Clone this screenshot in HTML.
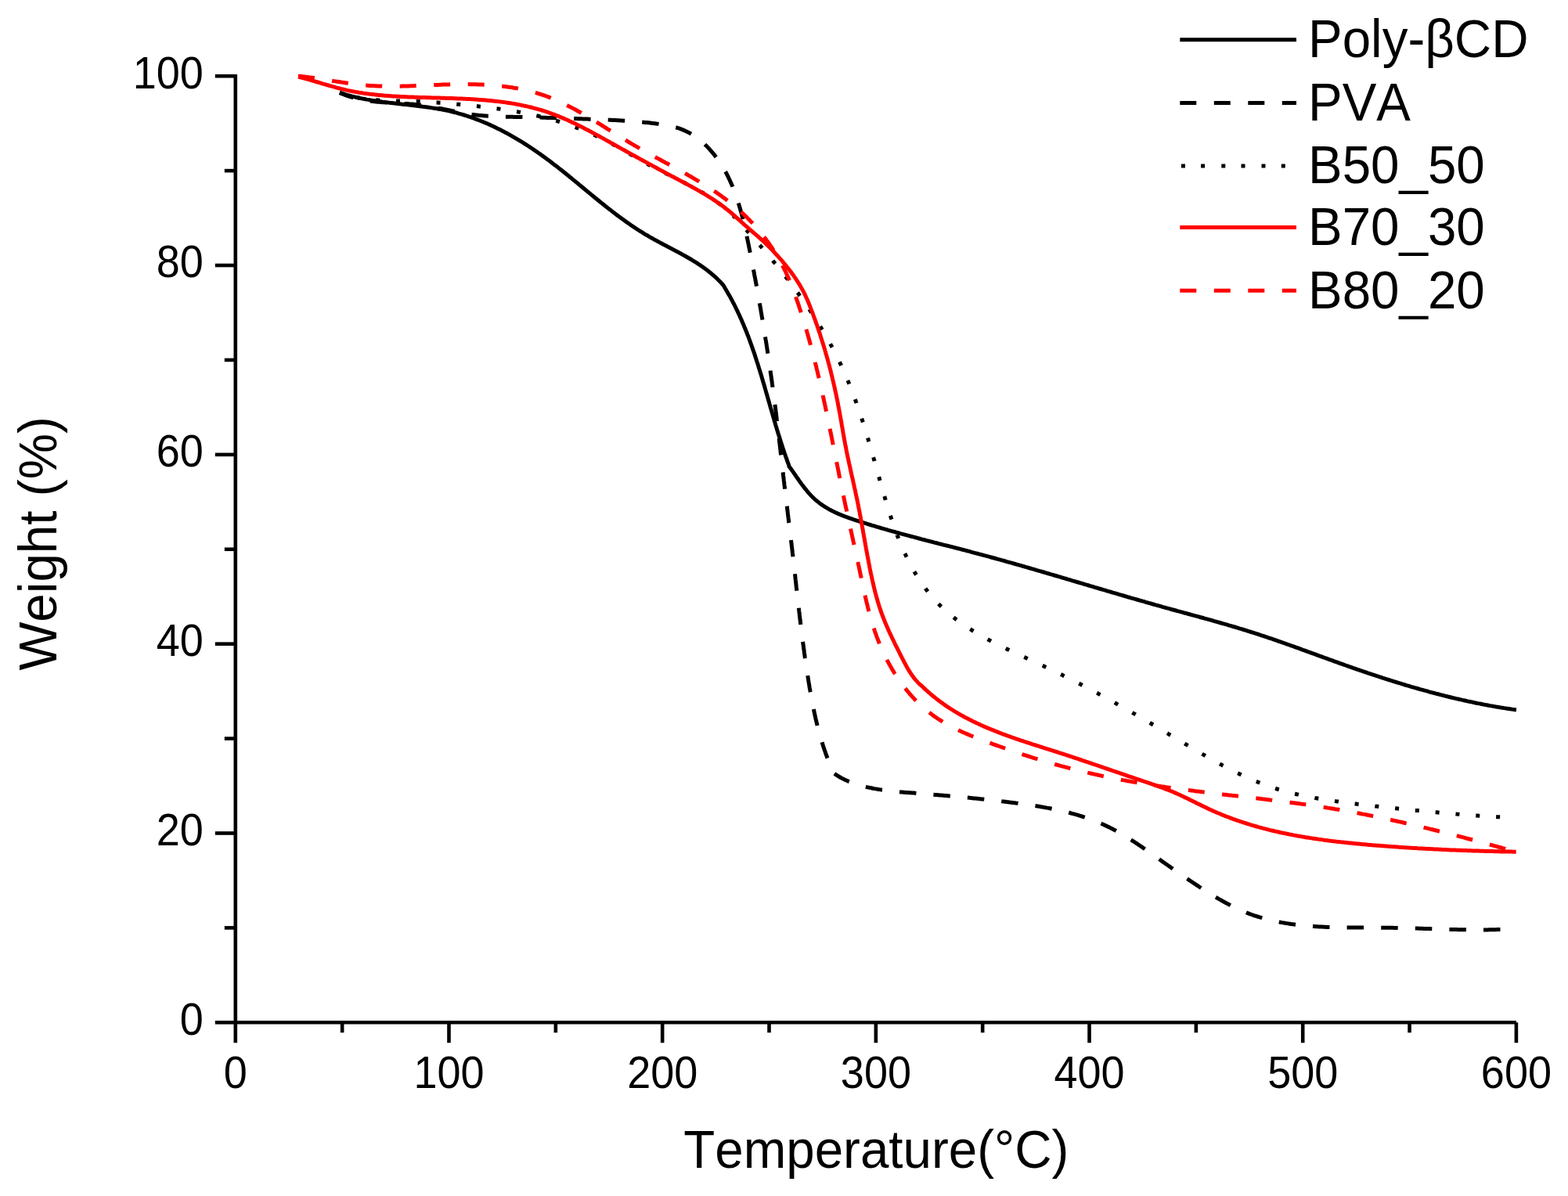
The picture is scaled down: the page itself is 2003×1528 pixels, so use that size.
<!DOCTYPE html>
<html><head><meta charset="utf-8"><title>TGA curves</title>
<style>html,body{margin:0;padding:0;background:#fff;width:2003px;height:1528px;overflow:hidden}svg{display:block}</style>
</head><body>
<svg width="2003" height="1528" viewBox="0 0 2003 1528">
<rect width="2003" height="1528" fill="#ffffff"/>
<g fill="none" stroke-linejoin="round">
<path d="M434.0 118.5 L435.9 119.3 L437.8 119.9 L439.7 120.5 L441.7 121.1 L443.6 121.7 L445.6 122.2 L447.5 122.7 L449.5 123.1 L451.4 123.6 L453.4 124.0 L455.3 124.4 L457.3 124.7 L459.2 125.1 L461.2 125.4 L463.2 125.7 L465.1 126.0 L467.1 126.3 L469.1 126.5 L471.1 126.8 L473.1 127.0 L475.0 127.2 L477.0 127.4 L479.0 127.6 L481.0 127.7 L483.0 127.9 L485.0 128.0 L487.0 128.2 L488.9 128.3 L490.9 128.4 L492.9 128.5 L494.9 128.6 L496.9 128.6 L498.9 128.7 L500.9 128.8 L502.9 128.9 L504.9 128.9 L506.9 129.0 L508.9 129.0 L510.9 129.1 L512.9 129.1 L514.9 129.2 L516.9 129.2 L518.9 129.2 L520.9 129.3 L522.9 129.3 L524.9 129.4 L526.9 129.4 L528.9 129.5 L530.9 129.6 L532.9 129.6 L534.9 129.7 L536.9 129.8 L538.8 129.9 L540.8 129.9 L542.8 130.0 L544.8 130.1 L546.8 130.3 L548.8 130.4 L550.8 130.5 L552.8 130.6 L554.7 130.7 L556.7 130.9 L558.7 131.0 L560.7 131.2 L562.7 131.3 L564.7 131.5 L566.6 131.6 L568.6 131.8 L570.6 131.9 L572.6 132.1 L574.6 132.3 L576.6 132.4 L578.6 132.6 L580.5 132.8 L582.5 133.0 L584.5 133.2 L586.5 133.3 L588.5 133.5 L590.5 133.7 L592.5 133.9 L594.5 134.1 L596.5 134.3 L598.5 134.5 L600.5 134.7 L602.4 134.9 L604.4 135.1 L606.4 135.3 L608.4 135.5 L610.4 135.7 L612.4 136.0 L614.4 136.2 L616.4 136.4 L618.4 136.6 L620.4 136.9 L622.4 137.1 L624.4 137.4 L626.4 137.6 L628.4 137.9 L630.4 138.1 L632.4 138.4 L634.4 138.7 L636.3 138.9 L638.3 139.2 L640.3 139.5 L642.3 139.8 L644.3 140.1 L646.3 140.4 L648.3 140.7 L650.3 141.0 L652.2 141.3 L654.2 141.6 L656.2 142.0 L658.2 142.3 L660.1 142.6 L662.1 143.0 L664.1 143.3 L666.1 143.7 L668.0 144.1 L670.0 144.5 L672.0 144.9 L673.9 145.2 L675.9 145.6 L677.9 146.1 L679.8 146.5 L681.8 146.9 L683.7 147.3 L685.7 147.8 L687.6 148.2 L689.6 148.7 L691.5 149.2 L693.4 149.6 L695.4 150.1 L697.3 150.6 L699.2 151.1 L701.2 151.6 L703.1 152.2 L705.0 152.7 L706.9 153.2 L708.8 153.8 L710.7 154.3 L712.6 154.9 L714.5 155.5 L716.4 156.1 L718.3 156.7 L720.2 157.3 L722.1 157.9 L724.0 158.6 L725.9 159.2 L727.8 159.9 L729.6 160.5 L731.5 161.2 L733.4 161.9 L735.2 162.6 L737.1 163.3 L739.0 164.0 L740.8 164.7 L742.7 165.5 L744.5 166.2 L746.3 167.0 L748.2 167.7 L750.0 168.5 L751.8 169.3 L753.7 170.1 L755.5 170.9 L757.3 171.7 L759.1 172.5 L760.9 173.3 L762.7 174.2 L764.5 175.0 L766.3 175.9 L768.1 176.7 L769.9 177.6 L771.7 178.5 L773.5 179.4 L775.2 180.3 L777.0 181.2 L778.8 182.1 L780.5 183.1 L782.3 184.0 L784.1 185.0 L785.8 185.9 L787.6 186.9 L789.3 187.8 L791.0 188.8 L792.8 189.8 L794.5 190.8 L796.3 191.8 L798.0 192.8 L799.7 193.8 L801.5 194.8 L803.2 195.8 L804.9 196.8 L806.6 197.8 L808.4 198.8 L810.1 199.8 L811.8 200.8 L813.6 201.8 L815.3 202.8 L817.0 203.8 L818.8 204.8 L820.5 205.8 L822.3 206.8 L824.0 207.8 L825.8 208.7 L827.5 209.7 L829.3 210.7 L831.1 211.6 L832.8 212.5 L834.6 213.5 L836.4 214.4 L838.2 215.3 L839.9 216.2 L841.7 217.1 L843.5 218.0 L845.3 218.9 L847.1 219.8 L848.9 220.7 L850.7 221.6 L852.5 222.5 L854.3 223.4 L856.0 224.3 L857.8 225.2 L859.6 226.1 L861.4 227.0 L863.2 227.9 L865.0 228.8 L866.8 229.7 L868.6 230.6 L870.4 231.5 L872.1 232.4 L873.9 233.3 L875.7 234.2 L877.5 235.1 L879.2 236.0 L881.0 236.9 L882.7 237.9 L884.5 238.8 L886.3 239.8 L888.0 240.7 L889.7 241.7 L891.5 242.7 L893.2 243.7 L894.9 244.6 L896.6 245.6 L898.4 246.7 L900.1 247.7 L901.8 248.7 L903.4 249.8 L905.1 250.8 L906.8 251.9 L908.5 253.0 L910.1 254.1 L911.8 255.2 L913.4 256.3 L915.0 257.5 L916.6 258.7 L918.2 259.8 L919.8 261.0 L921.4 262.2 L923.0 263.5 L924.6 264.7 L926.1 266.0 L927.7 267.3 L929.2 268.6 L930.7 269.9 L932.2 271.3 L933.7 272.6 L935.2 274.0 L936.6 275.4 L938.0 277.0" stroke="#000" stroke-width="5.0" stroke-dasharray="5 20.8" stroke-dashoffset="4.3" stroke-linecap="butt"/>
<path d="M938.0 277.0 L939.5 278.5 L940.8 279.9 L942.2 281.4 L943.5 282.8 L944.8 284.3 L946.2 285.8 L947.5 287.2 L948.8 288.7 L950.2 290.2 L951.5 291.6 L952.8 293.1 L954.2 294.6 L955.5 296.1 L956.8 297.6 L958.1 299.1 L959.5 300.5 L960.8 302.0 L962.1 303.5 L963.4 305.0 L964.7 306.5 L966.0 308.0 L967.4 309.5 L968.7 311.1 L970.0 312.6 L971.3 314.1 L972.6 315.6 L973.9 317.1 L975.2 318.6 L976.5 320.2 L977.8 321.7 L979.1 323.2 L980.4 324.8 L981.6 326.3 L982.9 327.8 L984.2 329.4 L985.5 330.9 L986.8 332.5 L988.0 334.0 L989.3 335.6 L990.6 337.1 L991.8 338.7 L993.1 340.2 L994.4 341.8 L995.6 343.4 L996.9 344.9 L998.1 346.5 L999.4 348.1 L1000.6 349.7 L1001.9 351.2 L1003.1 352.8 L1004.3 354.4 L1005.5 356.0 L1006.8 357.6 L1008.0 359.2 L1009.2 360.8 L1010.4 362.4 L1011.6 364.0 L1012.8 365.6 L1014.0 367.2 L1015.2 368.8 L1016.4 370.5 L1017.6 372.1 L1018.8 373.7 L1020.0 375.3 L1021.1 377.0 L1022.3 378.6 L1023.5 380.2 L1024.6 381.9 L1025.8 383.5 L1026.9 385.1 L1028.1 386.8 L1029.2 388.4 L1030.4 390.1 L1031.5 391.8 L1032.6 393.4 L1033.7 395.1 L1034.8 396.7 L1035.9 398.4 L1037.0 400.1 L1038.1 401.8 L1039.2 403.4 L1040.3 405.1 L1041.4 406.8 L1042.5 408.5 L1043.5 410.2 L1044.6 411.9 L1045.7 413.6 L1046.7 415.3 L1047.7 417.0 L1048.8 418.7 L1049.8 420.4 L1050.8 422.1 L1051.9 423.8 L1052.9 425.6 L1053.9 427.3 L1054.9 429.0 L1055.9 430.7 L1056.8 432.5 L1057.8 434.2 L1058.8 436.0 L1059.8 437.7 L1060.7 439.4 L1061.7 441.2 L1062.6 443.0 L1063.5 444.7 L1064.5 446.5 L1065.4 448.2 L1066.3 450.0 L1067.2 451.8 L1068.1 453.6 L1069.0 455.3 L1069.9 457.1 L1070.8 458.9 L1071.6 460.7 L1072.5 462.5 L1073.4 464.3 L1074.2 466.1 L1075.0 467.9 L1075.9 469.7 L1076.7 471.5 L1077.5 473.3 L1078.3 475.1 L1079.1 476.9 L1079.9 478.8 L1080.7 480.6 L1081.5 482.4 L1082.2 484.2 L1083.0 486.1 L1083.7 487.9 L1084.5 489.8 L1085.2 491.6 L1086.0 493.5 L1086.7 495.3 L1087.4 497.2 L1088.1 499.0 L1088.8 500.9 L1089.6 502.7 L1090.3 504.6 L1090.9 506.5 L1091.6 508.3 L1092.3 510.2 L1093.0 512.1 L1093.7 513.9 L1094.3 515.8 L1095.0 517.7 L1095.7 519.6 L1096.3 521.5 L1096.9 523.3 L1097.6 525.2 L1098.2 527.1 L1098.9 529.0 L1099.5 530.9 L1100.1 532.8 L1100.7 534.7 L1101.4 536.6 L1102.0 538.5 L1102.6 540.4 L1103.2 542.3 L1103.8 544.2 L1104.4 546.1 L1105.0 548.0 L1105.6 550.0 L1106.2 551.9 L1106.7 553.8 L1107.3 555.7 L1107.9 557.6 L1108.5 559.5 L1109.1 561.5 L1109.6 563.4 L1110.2 565.3 L1110.8 567.2 L1111.3 569.1 L1111.9 571.1 L1112.5 573.0 L1113.0 574.9 L1113.6 576.8 L1114.1 578.8 L1114.7 580.7 L1115.2 582.6 L1115.8 584.6 L1116.3 586.5 L1116.9 588.4 L1117.4 590.4 L1118.0 592.3 L1118.5 594.2 L1119.1 596.2 L1119.6 598.1 L1120.2 600.0 L1120.7 602.0 L1121.3 603.9 L1121.8 605.8 L1122.3 607.8 L1122.9 609.7 L1123.4 611.7 L1124.0 613.6 L1124.5 615.5 L1125.1 617.5 L1125.6 619.4 L1126.2 621.3 L1126.7 623.3 L1127.3 625.2 L1127.8 627.1 L1128.4 629.1 L1128.9 631.0 L1129.5 632.9 L1130.1 634.9 L1130.6 636.8 L1131.2 638.7 L1131.8 640.7 L1132.3 642.6 L1132.9 644.5 L1133.5 646.4 L1134.1 648.3 L1134.7 650.3 L1135.3 652.2 L1135.9 654.1 L1136.5 656.0 L1137.1 657.9 L1137.7 659.8 L1138.3 661.7 L1139.0 663.6 L1139.6 665.5 L1140.2 667.4 L1140.9 669.3 L1141.5 671.2 L1142.2 673.1 L1142.9 675.0 L1143.6 676.9 L1144.2 678.8 L1144.9 680.6 L1145.6 682.5 L1146.3 684.4 L1147.1 686.2 L1147.8 688.1 L1148.5 689.9 L1149.3 691.8 L1150.0 693.6 L1150.8 695.5 L1151.6 697.3 L1152.4 699.2 L1153.2 701.0 L1154.0 702.8 L1154.8 704.6 L1155.6 706.4 L1156.5 708.3 L1157.3 710.1 L1158.2 711.9 L1159.1 713.7 L1160.0 715.4 L1160.9 717.2 L1161.8 719.0 L1162.7 720.8 L1163.6 722.5 L1164.6 724.3 L1165.6 726.0 L1166.5 727.8 L1167.5 729.5 L1168.5 731.2 L1169.5 732.9 L1170.6 734.6 L1171.6 736.3 L1172.7 738.0 L1173.7 739.7 L1174.8 741.4 L1175.9 743.0 L1177.0 744.7 L1178.2 746.3 L1179.3 747.9 L1180.5 749.5 L1181.6 751.1 L1182.8 752.7 L1184.0 754.3 L1185.2 755.9 L1186.4 757.4 L1187.7 759.0 L1188.9 760.5 L1190.2 762.0 L1191.5 763.5 L1192.8 765.0 L1194.1 766.5 L1195.4 767.9 L1196.8 769.4 L1198.1 770.8 L1199.5 772.2 L1200.9 773.6 L1202.3 775.0 L1203.8 776.4 L1205.2 777.7 L1206.7 779.1 L1208.1 780.4 L1209.6 781.7 L1211.1 783.0 L1212.6 784.3 L1214.1 785.5 L1215.7 786.8 L1217.2 788.0 L1218.8 789.3 L1220.4 790.5 L1221.9 791.7 L1223.5 792.9 L1225.1 794.1 L1226.8 795.2 L1228.4 796.4 L1230.0 797.5 L1231.7 798.7 L1233.3 799.8 L1235.0 800.9 L1236.7 802.0 L1238.3 803.1 L1240.0 804.1 L1241.7 805.2 L1243.4 806.3 L1245.2 807.3 L1246.9 808.4 L1248.6 809.4 L1250.3 810.4 L1252.1 811.4 L1253.8 812.4 L1255.6 813.4 L1257.3 814.4 L1259.1 815.3 L1260.9 816.3 L1262.6 817.3 L1264.4 818.2 L1266.2 819.2 L1268.0 820.1 L1269.8 821.0 L1271.6 821.9 L1273.4 822.8 L1275.2 823.7 L1277.0 824.6 L1278.8 825.5 L1280.6 826.4 L1282.4 827.3 L1284.2 828.2 L1286.0 829.1 L1287.8 829.9 L1289.6 830.8 L1291.4 831.7 L1293.2 832.5 L1295.1 833.4 L1296.9 834.2 L1298.7 835.1 L1300.5 835.9 L1302.4 836.8 L1304.2 837.6 L1306.0 838.5 L1307.8 839.3 L1309.7 840.1 L1311.5 841.0 L1313.3 841.8 L1315.1 842.6 L1317.0 843.5 L1318.8 844.3 L1320.6 845.2 L1322.4 846.0 L1324.2 846.8 L1326.1 847.7 L1327.9 848.5 L1329.7 849.4 L1331.5 850.2 L1333.3 851.0 L1335.1 851.9 L1337.0 852.8 L1338.8 853.6 L1340.6 854.5 L1342.4 855.3 L1344.2 856.2 L1346.0 857.1 L1347.8 857.9 L1349.6 858.8 L1351.4 859.7 L1353.2 860.6 L1355.0 861.4 L1356.8 862.3 L1358.5 863.2 L1360.3 864.1 L1362.1 865.0 L1363.9 865.9 L1365.7 866.8 L1367.5 867.7 L1369.2 868.6 L1371.0 869.5 L1372.8 870.4 L1374.6 871.3 L1376.3 872.2 L1378.1 873.1 L1379.9 874.0 L1381.7 875.0 L1383.4 875.9 L1385.2 876.8 L1387.0 877.7 L1388.7 878.6 L1390.5 879.6 L1392.2 880.5 L1394.0 881.4 L1395.8 882.4 L1397.5 883.3 L1399.3 884.3 L1401.0 885.2 L1402.8 886.1 L1404.5 887.1 L1406.3 888.0 L1408.0 889.0 L1409.8 889.9 L1411.5 890.9 L1413.3 891.9 L1415.0 892.8 L1416.8 893.8 L1418.5 894.7 L1420.3 895.7 L1422.0 896.7 L1423.7 897.6 L1425.5 898.6 L1427.2 899.6 L1429.0 900.6 L1430.7 901.5 L1432.4 902.5 L1434.2 903.5 L1435.9 904.5 L1437.6 905.5 L1439.4 906.4 L1441.1 907.4 L1442.8 908.4 L1444.6 909.4 L1446.3 910.4 L1448.0 911.4 L1449.8 912.4 L1451.5 913.4 L1453.2 914.4 L1454.9 915.4 L1456.7 916.4 L1458.4 917.4 L1460.1 918.4 L1461.8 919.4 L1463.6 920.4 L1465.3 921.4 L1467.0 922.4 L1468.7 923.4 L1470.5 924.5 L1472.2 925.5 L1473.9 926.5 L1475.6 927.5 L1477.3 928.5 L1479.1 929.5 L1480.8 930.6 L1482.5 931.6 L1484.2 932.6 L1486.0 933.6 L1487.7 934.7 L1489.4 935.7 L1491.1 936.7 L1492.8 937.8 L1494.5 938.8 L1496.3 939.8 L1498.0 940.8 L1499.7 941.9 L1501.4 942.9 L1503.1 944.0 L1504.9 945.0 L1506.6 946.0 L1508.3 947.1 L1510.0 948.1 L1511.7 949.1 L1513.5 950.2 L1515.2 951.2 L1516.9 952.2 L1518.6 953.2 L1520.4 954.3 L1522.1 955.3 L1523.8 956.3 L1525.5 957.4 L1527.3 958.4 L1529.0 959.4 L1530.7 960.4 L1532.5 961.4 L1534.2 962.4 L1535.9 963.4 L1537.7 964.4 L1539.4 965.4 L1541.1 966.4 L1542.9 967.4 L1544.6 968.4 L1546.4 969.4 L1548.1 970.4 L1549.8 971.4 L1551.6 972.3 L1553.3 973.3 L1555.1 974.3 L1556.9 975.2 L1558.6 976.2 L1560.4 977.1 L1562.1 978.1 L1563.9 979.0 L1565.7 979.9 L1567.4 980.9 L1569.2 981.8 L1571.0 982.7 L1572.8 983.6 L1574.5 984.5 L1576.3 985.4 L1578.1 986.3 L1579.9 987.2 L1581.7 988.0 L1583.5 988.9 L1585.3 989.7 L1587.1 990.6 L1588.9 991.4 L1590.7 992.2 L1592.5 993.1 L1594.3 993.9 L1596.1 994.7 L1598.0 995.5 L1599.8 996.3 L1601.6 997.0 L1603.4 997.8 L1605.3 998.5 L1607.1 999.3 L1609.0 1000.0 L1610.8 1000.7 L1612.7 1001.5 L1614.5 1002.2 L1616.4 1002.9 L1618.2 1003.5 L1620.1 1004.2 L1622.0 1004.9 L1623.9 1005.5 L1625.7 1006.1 L1627.6 1006.8 L1629.5 1007.4 L1631.4 1008.0 L1633.3 1008.6 L1635.2 1009.1 L1637.1 1009.7 L1639.0 1010.2 L1641.0 1010.8 L1642.9 1011.3 L1644.8 1011.8 L1646.7 1012.3 L1648.7 1012.8 L1650.6 1013.3 L1652.6 1013.8 L1654.5 1014.2 L1656.5 1014.7 L1658.4 1015.1 L1660.4 1015.6 L1662.3 1016.0 L1664.3 1016.4 L1666.2 1016.8 L1668.2 1017.2 L1670.2 1017.6 L1672.1 1018.0 L1674.1 1018.4 L1676.1 1018.8 L1678.1 1019.1 L1680.0 1019.5 L1682.0 1019.8 L1684.0 1020.2 L1686.0 1020.5 L1688.0 1020.8 L1690.0 1021.2 L1691.9 1021.5 L1693.9 1021.8 L1695.9 1022.1 L1697.9 1022.4 L1699.9 1022.7 L1701.9 1023.0 L1703.9 1023.3 L1705.9 1023.6 L1707.9 1023.9 L1709.8 1024.1 L1711.8 1024.4 L1713.8 1024.7 L1715.8 1025.0 L1717.8 1025.2 L1719.8 1025.5 L1721.8 1025.8 L1723.8 1026.0 L1725.8 1026.3 L1727.7 1026.5 L1729.7 1026.8 L1731.7 1027.0 L1733.7 1027.3 L1735.7 1027.5 L1737.7 1027.8 L1739.7 1028.0 L1741.7 1028.2 L1743.7 1028.5 L1745.6 1028.7 L1747.6 1028.9 L1749.6 1029.2 L1751.6 1029.4 L1753.6 1029.6 L1755.6 1029.8 L1757.6 1030.1 L1759.6 1030.3 L1761.5 1030.5 L1763.5 1030.7 L1765.5 1030.9 L1767.5 1031.1 L1769.5 1031.4 L1771.5 1031.6 L1773.5 1031.8 L1775.4 1032.0 L1777.4 1032.2 L1779.4 1032.4 L1781.4 1032.6 L1783.4 1032.8 L1785.4 1033.0 L1787.4 1033.2 L1789.3 1033.4 L1791.3 1033.6 L1793.3 1033.8 L1795.3 1034.0 L1797.3 1034.2 L1799.3 1034.4 L1801.3 1034.6 L1803.2 1034.8 L1805.2 1035.0 L1807.2 1035.2 L1809.2 1035.4 L1811.2 1035.6 L1813.2 1035.8 L1815.2 1036.0 L1817.1 1036.2 L1819.1 1036.4 L1821.1 1036.6 L1823.1 1036.7 L1825.1 1036.9 L1827.1 1037.1 L1829.1 1037.3 L1831.1 1037.5 L1833.0 1037.7 L1835.0 1037.8 L1837.0 1038.0 L1839.0 1038.2 L1841.0 1038.4 L1843.0 1038.6 L1845.0 1038.7 L1846.9 1038.9 L1848.9 1039.1 L1850.9 1039.2 L1852.9 1039.4 L1854.9 1039.6 L1856.9 1039.7 L1858.9 1039.9 L1860.9 1040.1 L1862.9 1040.2 L1864.8 1040.4 L1866.8 1040.6 L1868.8 1040.7 L1870.8 1040.9 L1872.8 1041.0 L1874.8 1041.2 L1876.8 1041.3 L1878.8 1041.5 L1880.8 1041.6 L1882.8 1041.8 L1884.8 1041.9 L1886.8 1042.0 L1888.8 1042.2 L1890.7 1042.3 L1892.7 1042.5 L1894.7 1042.6 L1896.7 1042.7 L1898.7 1042.8 L1900.7 1043.0 L1902.7 1043.1 L1904.7 1043.2 L1906.7 1043.3 L1908.7 1043.5 L1910.7 1043.6 L1912.7 1043.7 L1914.7 1043.8 L1916.7 1043.9 L1918.7 1044.0 L1920.7 1044.1 L1922.7 1044.3 L1924.7 1044.4 L1926.7 1044.5 L1928.7 1044.6 L1930.7 1044.7 L1932.7 1044.7 L1934.7 1044.8 L1936.7 1045.0" stroke="#000" stroke-width="5.0" stroke-dasharray="5 20.904" stroke-dashoffset="3.21" stroke-linecap="butt"/>
<path d="M434.0 118.5 L435.9 119.4 L437.8 120.2 L439.7 120.9 L441.6 121.7 L443.5 122.3 L445.4 123.0 L447.3 123.6 L449.2 124.2 L451.2 124.8 L453.1 125.3 L455.0 125.8 L457.0 126.2 L458.9 126.7 L460.9 127.1 L462.8 127.5 L464.8 127.8 L466.7 128.2 L468.7 128.5 L470.7 128.8 L472.6 129.0 L474.6 129.3 L476.6 129.5 L478.5 129.8 L480.5 130.0 L482.5 130.2 L484.5 130.3 L486.5 130.5 L488.5 130.7 L490.5 130.8 L492.4 130.9 L494.4 131.1 L496.4 131.2 L498.4 131.3 L500.4 131.4 L502.4 131.5 L504.4 131.7 L506.4 131.8 L508.4 131.9 L510.4 132.0 L512.4 132.1 L514.4 132.2 L516.4 132.4 L518.4 132.5 L520.4 132.6 L522.4 132.8 L524.4 132.9 L526.4 133.1 L528.3 133.3 L530.3 133.5 L532.3 133.7 L534.3 133.9 L536.3 134.1 L538.3 134.4 L540.2 134.7 L542.2 135.0 L544.2 135.3 L546.2 135.6 L548.1 135.9 L550.1 136.2 L552.1 136.6 L554.0 136.9 L556.0 137.3 L558.0 137.7 L559.9 138.1 L561.9 138.4 L563.8 138.8 L565.8 139.2 L567.8 139.6 L569.7 140.0 L571.7 140.4 L573.6 140.8 L575.6 141.2 L577.6 141.6 L579.5 142.0 L581.5 142.4 L583.4 142.8 L585.4 143.1 L587.4 143.5 L589.3 143.9 L591.3 144.2 L593.3 144.6 L595.2 144.9 L597.2 145.2 L599.1 145.6 L601.1 145.9 L603.1 146.2 L605.1 146.4 L607.0 146.7 L609.0 146.9 L611.0 147.2 L613.0 147.4 L614.9 147.6 L616.9 147.8 L618.9 148.0 L620.9 148.1 L622.9 148.3 L624.9 148.4 L626.8 148.5 L628.8 148.6 L630.8 148.7 L632.8 148.8 L634.8 148.9 L636.8 148.9 L638.8 149.0 L640.8 149.1 L642.8 149.1 L644.8 149.2 L646.8 149.2 L648.8 149.2 L650.8 149.3 L652.8 149.3 L654.8 149.3 L656.8 149.4 L658.8 149.4 L660.8 149.4 L662.8 149.5 L664.8 149.5 L666.8 149.5 L668.8 149.6 L670.8 149.6 L672.8 149.7 L674.8 149.7 L676.8 149.8 L678.8 149.8 L680.8 149.9 L682.8 149.9 L684.8 150.0 L686.8 150.0 L688.8 150.1 L690.8 150.1 L692.8 150.2 L694.8 150.2 L696.8 150.3 L698.8 150.4 L700.8 150.4 L702.8 150.5 L704.8 150.5 L706.8 150.6 L708.8 150.7 L710.8 150.7 L712.8 150.8 L714.7 150.9 L716.7 150.9 L718.7 151.0 L720.7 151.1 L722.7 151.1 L724.7 151.2 L726.7 151.3 L728.7 151.3 L730.7 151.4 L732.7 151.5 L734.7 151.6 L736.7 151.6 L738.7 151.7 L740.7 151.8 L742.7 151.8 L744.6 151.9 L746.6 152.0 L748.6 152.1 L750.6 152.1 L752.6 152.2 L754.6 152.3 L756.6 152.3 L758.6 152.4 L760.6 152.5 L762.5 152.6 L764.5 152.6 L766.5 152.7 L768.5 152.8 L770.5 152.9 L772.5 152.9 L774.5 153.0 L776.5 153.1 L778.4 153.2 L780.4 153.3 L782.4 153.4 L784.4 153.5 L786.4 153.6 L788.4 153.7 L790.4 153.8 L792.4 153.9 L794.4 154.0 L796.4 154.2 L798.4 154.3 L800.3 154.4 L802.3 154.5 L804.3 154.7 L806.3 154.8 L808.3 155.0 L810.3 155.1 L812.3 155.3 L814.3 155.5 L816.3 155.6 L818.3 155.8 L820.3 156.0 L822.3 156.2 L824.3 156.4 L826.4 156.6 L828.4 156.8 L830.4 157.0 L832.4 157.3 L834.4 157.5 L836.4 157.7 L838.4 158.0 L840.4 158.2 L842.4 158.5 L844.5 158.8 L846.5 159.1 L848.5 159.5 L850.5 159.8 L852.4 160.2 L854.4 160.6 L856.4 161.0 L858.3 161.5 L860.3 162.0 L862.2 162.5 L864.2 163.0 L866.1 163.6 L868.0 164.2 L869.8 164.9 L871.7 165.6 L873.5 166.4 L875.3 167.2 L877.1 168.0 L878.9 168.9 L880.7 169.9 L882.4 170.8 L884.1 171.9 L885.8 172.9 L887.5 174.0 L889.1 175.2 L890.7 176.4 L892.3 177.6 L893.9 178.8 L895.5 180.1 L897.0 181.4 L898.5 182.8 L900.0 184.1 L901.4 185.5 L902.9 186.9 L904.3 188.4 L905.7 189.8 L907.0 191.3 L908.3 192.8 L909.6 194.3 L910.9 195.8 L912.2 197.4 L913.4 198.9 L914.6 200.5 L915.8 202.1 L916.9 203.7 L918.1 205.3 L919.2 206.9 L920.3 208.5 L921.3 210.2 L922.4 211.8 L923.4 213.5 L924.4 215.2 L925.4 216.9 L926.3 218.6 L927.3 220.3 L928.2 222.0 L929.1 223.8 L930.0 225.5 L930.8 227.3 L931.7 229.1 L932.5 230.9 L933.3 232.7 L934.1 234.5 L934.9 236.3 L935.7 238.1 L936.4 239.9 L937.1 241.8 L937.8 243.6 L938.5 245.5 L939.2 247.3 L939.9 249.2 L940.5 251.1 L941.2 253.0 L941.8 254.9 L942.4 256.8 L943.0 258.7 L943.6 260.6 L944.2 262.5 L944.8 264.4 L945.3 266.3 L945.9 268.3 L946.4 270.2 L947.0 272.2 L947.5 274.1 L948.0 276.1 L948.5 278.0 L949.0 280.0 L949.5 281.9 L949.9 283.9 L950.4 285.9 L950.9 287.8 L951.3 289.8 L951.8 291.8 L952.2 293.8 L952.6 295.8 L953.1 297.7 L953.5 299.7 L953.9 301.7 L954.3 303.7 L954.8 305.7 L955.2 307.7 L955.6 309.6 L956.0 311.6 L956.4 313.6 L956.8 315.6 L957.2 317.6 L957.6 319.6 L958.0 321.5 L958.4 323.5 L958.8 325.5 L959.2 327.5 L959.6 329.5 L959.9 331.4 L960.3 333.4 L960.7 335.4 L961.1 337.4 L961.5 339.3 L961.9 341.3 L962.2 343.3 L962.6 345.3 L963.0 347.2 L963.4 349.2 L963.7 351.2 L964.1 353.2 L964.5 355.1 L964.9 357.1 L965.2 359.1 L965.6 361.0 L966.0 363.0 L966.3 365.0 L966.7 366.9 L967.0 368.9 L967.4 370.9 L967.7 372.8 L968.1 374.8 L968.5 376.8 L968.8 378.7 L969.2 380.7 L969.5 382.7 L969.9 384.6 L970.2 386.6 L970.5 388.6 L970.9 390.5 L971.2 392.5 L971.6 394.4 L971.9 396.4 L972.2 398.4 L972.6 400.3 L972.9 402.3 L973.2 404.2 L973.6 406.2 L973.9 408.2 L974.2 410.1 L974.6 412.1 L974.9 414.1 L975.2 416.0 L975.5 418.0 L975.8 419.9 L976.2 421.9 L976.5 423.9 L976.8 425.8 L977.1 427.8 L977.4 429.7 L977.7 431.7 L978.0 433.7 L978.4 435.6 L978.7 437.6 L979.0 439.5 L979.3 441.5 L979.6 443.5 L979.9 445.4 L980.2 447.4 L980.5 449.4 L980.8 451.3 L981.1 453.3 L981.4 455.2 L981.7 457.2 L982.0 459.2 L982.2 461.1 L982.5 463.1 L982.8 465.1 L983.1 467.0 L983.4 469.0 L983.7 471.0 L984.0 472.9 L984.2 474.9 L984.5 476.9 L984.8 478.8 L985.1 480.8 L985.4 482.8 L985.6 484.7 L985.9 486.7 L986.2 488.7 L986.4 490.6 L986.7 492.6 L987.0 494.6 L987.2 496.5 L987.5 498.5 L987.8 500.5 L988.0 502.5 L988.3 504.4 L988.6 506.4 L988.8 508.4 L989.1 510.4 L989.3 512.3 L989.6 514.3 L989.8 516.3 L990.1 518.3 L990.4 520.3 L990.6 522.2 L990.9 524.2 L991.1 526.2 L991.3 528.2 L991.6 530.2 L991.8 532.2 L992.1 534.1 L992.3 536.1 L992.6 538.1 L992.8 540.1 L993.0 542.1 L993.3 544.1 L993.5 546.1 L993.7 548.1 L994.0 550.0 L994.2 552.0 L994.5 554.0 L994.7 556.0 L994.9 558.0 L995.1 560.0 L995.4 562.0 L995.6 564.0 L995.8 566.0 L996.1 568.0 L996.3 570.0 L996.5 572.0 L996.8 574.0 L997.0 576.0 L997.2 578.0 L997.4 579.9 L997.7 581.9 L997.9 583.9 L998.1 585.9 L998.4 587.9 L998.6 589.9 L998.8 591.9 L999.0 593.9 L999.3 595.9 L999.5 597.9 L999.7 599.9 L999.9 601.9 L1000.2 603.9 L1000.4 605.9 L1000.6 607.8 L1000.9 609.8 L1001.1 611.8 L1001.3 613.8 L1001.6 615.8 L1001.8 617.8 L1002.0 619.8 L1002.3 621.8 L1002.5 623.7 L1002.7 625.7 L1003.0 627.7 L1003.2 629.7 L1003.4 631.7 L1003.7 633.6 L1003.9 635.6 L1004.2 637.6 L1004.4 639.6 L1004.6 641.6 L1004.9 643.5 L1005.1 645.5 L1005.4 647.5 L1005.6 649.5 L1005.8 651.5 L1006.1 653.4 L1006.3 655.4 L1006.5 657.4 L1006.8 659.4 L1007.0 661.3 L1007.3 663.3 L1007.5 665.3 L1007.7 667.3 L1008.0 669.2 L1008.2 671.2 L1008.5 673.2 L1008.7 675.2 L1008.9 677.2 L1009.2 679.1 L1009.4 681.1 L1009.7 683.1 L1009.9 685.1 L1010.1 687.0 L1010.4 689.0 L1010.6 691.0 L1010.8 693.0 L1011.1 694.9 L1011.3 696.9 L1011.5 698.9 L1011.8 700.9 L1012.0 702.9 L1012.2 704.8 L1012.4 706.8 L1012.7 708.8 L1012.9 710.8 L1013.1 712.8 L1013.3 714.7 L1013.6 716.7 L1013.8 718.7 L1014.0 720.7 L1014.2 722.7 L1014.5 724.7 L1014.7 726.6 L1014.9 728.6 L1015.1 730.6 L1015.4 732.6 L1015.6 734.6 L1015.8 736.6 L1016.0 738.5 L1016.2 740.5 L1016.5 742.5 L1016.7 744.5 L1016.9 746.5 L1017.1 748.5 L1017.3 750.5 L1017.6 752.5 L1017.8 754.4 L1018.0 756.4 L1018.2 758.4 L1018.5 760.4 L1018.7 762.4 L1018.9 764.4 L1019.1 766.4 L1019.4 768.3 L1019.6 770.3 L1019.8 772.3 L1020.0 774.3 L1020.3 776.3 L1020.5 778.3 L1020.7 780.3 L1021.0 782.3 L1021.2 784.2 L1021.4 786.2 L1021.6 788.2 L1021.9 790.2 L1022.1 792.2 L1022.4 794.2 L1022.6 796.2 L1022.8 798.2 L1023.1 800.1 L1023.3 802.1 L1023.6 804.1 L1023.8 806.1 L1024.1 808.1 L1024.3 810.1 L1024.6 812.0 L1024.8 814.0 L1025.1 816.0 L1025.3 818.0 L1025.6 820.0 L1025.8 822.0 L1026.1 823.9 L1026.4 825.9 L1026.6 827.9 L1026.9 829.9 L1027.2 831.9 L1027.4 833.8 L1027.7 835.8 L1028.0 837.8 L1028.2 839.8 L1028.5 841.8 L1028.8 843.7 L1029.1 845.7 L1029.4 847.7 L1029.7 849.7 L1030.0 851.6 L1030.3 853.6 L1030.6 855.6 L1030.9 857.6 L1031.2 859.5 L1031.5 861.5 L1031.8 863.5 L1032.1 865.5 L1032.4 867.4 L1032.7 869.4 L1033.0 871.4 L1033.4 873.3 L1033.7 875.3 L1034.0 877.3 L1034.3 879.2 L1034.7 881.2 L1035.0 883.2 L1035.4 885.1 L1035.7 887.1 L1036.1 889.1 L1036.4 891.0 L1036.8 893.0 L1037.1 894.9 L1037.5 896.9 L1037.9 898.8 L1038.3 900.8 L1038.7 902.7 L1039.1 904.7 L1039.5 906.7 L1039.9 908.6 L1040.3 910.5 L1040.7 912.5 L1041.1 914.4 L1041.6 916.4 L1042.0 918.3 L1042.5 920.3 L1042.9 922.2 L1043.4 924.1 L1043.9 926.1 L1044.3 928.0 L1044.8 929.9 L1045.3 931.9 L1045.8 933.8 L1046.4 935.7 L1046.9 937.6 L1047.4 939.5 L1048.0 941.5 L1048.5 943.4 L1049.1 945.3 L1049.7 947.2 L1050.3 949.1 L1050.9 951.0 L1051.5 952.9 L1052.1 954.8 L1052.7 956.7 L1053.4 958.6 L1054.1 960.5 L1054.7 962.4 L1055.4 964.3 L1056.1 966.2 L1056.8 968.1 L1057.5 969.9 L1058.2 971.8 L1059.0 973.7 L1059.7 975.6 L1060.4 977.4 L1061.1 979.3 L1061.9 981.2 L1062.6 983.1 L1063.0 985.0 L1063.9 987.0 L1065.6 988.2 L1067.2 989.3 L1068.9 990.4 L1070.6 991.5 L1072.3 992.5 L1074.0 993.5 L1075.7 994.4 L1077.5 995.3 L1079.3 996.2 L1081.1 997.0 L1082.9 997.8 L1084.7 998.6 L1086.5 999.3 L1088.3 1000.0 L1090.2 1000.7 L1092.0 1001.3 L1093.9 1002.0 L1095.8 1002.5 L1097.7 1003.1 L1099.6 1003.6 L1101.5 1004.2 L1103.4 1004.6 L1105.3 1005.1 L1107.3 1005.6 L1109.2 1006.0 L1111.1 1006.4 L1113.1 1006.8 L1115.0 1007.2 L1117.0 1007.6 L1119.0 1007.9 L1120.9 1008.3 L1122.9 1008.6 L1124.9 1008.9 L1126.8 1009.2 L1128.8 1009.4 L1130.8 1009.7 L1132.8 1010.0 L1134.8 1010.2 L1136.8 1010.4 L1138.8 1010.7 L1140.8 1010.9 L1142.8 1011.1 L1144.8 1011.3 L1146.8 1011.5 L1148.8 1011.7 L1150.8 1011.9 L1152.8 1012.0 L1154.8 1012.2 L1156.8 1012.4 L1158.8 1012.5 L1160.8 1012.7 L1162.8 1012.8 L1164.8 1013.0 L1166.9 1013.1 L1168.9 1013.3 L1170.9 1013.5 L1172.9 1013.6 L1174.9 1013.8 L1176.9 1013.9 L1178.9 1014.1 L1180.9 1014.2 L1182.9 1014.4 L1184.9 1014.6 L1186.9 1014.7 L1188.9 1014.9 L1190.8 1015.0 L1192.8 1015.2 L1194.8 1015.4 L1196.8 1015.5 L1198.8 1015.7 L1200.8 1015.9 L1202.8 1016.0 L1204.8 1016.2 L1206.8 1016.4 L1208.7 1016.5 L1210.7 1016.7 L1212.7 1016.9 L1214.7 1017.1 L1216.7 1017.2 L1218.7 1017.4 L1220.6 1017.6 L1222.6 1017.8 L1224.6 1018.0 L1226.6 1018.2 L1228.6 1018.3 L1230.5 1018.5 L1232.5 1018.7 L1234.5 1018.9 L1236.5 1019.1 L1238.5 1019.3 L1240.4 1019.5 L1242.4 1019.7 L1244.4 1019.9 L1246.4 1020.1 L1248.3 1020.3 L1250.3 1020.5 L1252.3 1020.7 L1254.3 1020.9 L1256.3 1021.1 L1258.2 1021.3 L1260.2 1021.5 L1262.2 1021.7 L1264.2 1022.0 L1266.1 1022.2 L1268.1 1022.4 L1270.1 1022.6 L1272.1 1022.9 L1274.1 1023.1 L1276.0 1023.3 L1278.0 1023.5 L1280.0 1023.8 L1282.0 1024.0 L1284.0 1024.2 L1286.0 1024.5 L1287.9 1024.7 L1289.9 1025.0 L1291.9 1025.2 L1293.9 1025.5 L1295.9 1025.7 L1297.9 1026.0 L1299.9 1026.2 L1301.8 1026.5 L1303.8 1026.8 L1305.8 1027.0 L1307.8 1027.3 L1309.8 1027.6 L1311.8 1027.9 L1313.8 1028.2 L1315.7 1028.5 L1317.7 1028.8 L1319.7 1029.1 L1321.7 1029.4 L1323.7 1029.7 L1325.7 1030.0 L1327.6 1030.3 L1329.6 1030.7 L1331.6 1031.0 L1333.6 1031.4 L1335.5 1031.7 L1337.5 1032.1 L1339.5 1032.4 L1341.4 1032.8 L1343.4 1033.2 L1345.3 1033.6 L1347.3 1034.0 L1349.3 1034.4 L1351.2 1034.8 L1353.2 1035.3 L1355.1 1035.7 L1357.1 1036.1 L1359.0 1036.6 L1360.9 1037.1 L1362.9 1037.6 L1364.8 1038.0 L1366.7 1038.5 L1368.6 1039.1 L1370.6 1039.6 L1372.5 1040.1 L1374.4 1040.7 L1376.3 1041.2 L1378.2 1041.8 L1380.1 1042.4 L1382.0 1043.0 L1383.9 1043.6 L1385.7 1044.2 L1387.6 1044.8 L1389.5 1045.5 L1391.3 1046.1 L1393.2 1046.8 L1395.1 1047.5 L1396.9 1048.2 L1398.8 1048.9 L1400.6 1049.6 L1402.4 1050.4 L1404.3 1051.2 L1406.1 1051.9 L1407.9 1052.7 L1409.7 1053.5 L1411.5 1054.4 L1413.3 1055.2 L1415.1 1056.1 L1416.9 1056.9 L1418.6 1057.8 L1420.4 1058.7 L1422.2 1059.6 L1423.9 1060.6 L1425.7 1061.5 L1427.4 1062.5 L1429.1 1063.5 L1430.9 1064.5 L1432.6 1065.5 L1434.3 1066.5 L1436.0 1067.5 L1437.7 1068.5 L1439.5 1069.6 L1441.2 1070.6 L1442.9 1071.7 L1444.5 1072.8 L1446.2 1073.8 L1447.9 1074.9 L1449.6 1076.0 L1451.3 1077.1 L1453.0 1078.3 L1454.6 1079.4 L1456.3 1080.5 L1458.0 1081.6 L1459.6 1082.8 L1461.3 1083.9 L1462.9 1085.1 L1464.6 1086.2 L1466.2 1087.4 L1467.9 1088.5 L1469.5 1089.7 L1471.2 1090.9 L1472.8 1092.0 L1474.5 1093.2 L1476.1 1094.4 L1477.7 1095.5 L1479.4 1096.7 L1481.0 1097.9 L1482.7 1099.0 L1484.3 1100.2 L1485.9 1101.4 L1487.6 1102.5 L1489.2 1103.7 L1490.8 1104.8 L1492.5 1106.0 L1494.1 1107.1 L1495.7 1108.3 L1497.4 1109.4 L1499.0 1110.6 L1500.6 1111.7 L1502.3 1112.9 L1503.9 1114.0 L1505.6 1115.2 L1507.2 1116.3 L1508.8 1117.4 L1510.5 1118.5 L1512.1 1119.7 L1513.8 1120.8 L1515.4 1121.9 L1517.1 1123.0 L1518.7 1124.2 L1520.4 1125.3 L1522.0 1126.4 L1523.7 1127.5 L1525.4 1128.6 L1527.0 1129.7 L1528.7 1130.8 L1530.4 1131.9 L1532.0 1133.0 L1533.7 1134.1 L1535.4 1135.2 L1537.1 1136.3 L1538.8 1137.4 L1540.5 1138.5 L1542.2 1139.5 L1543.9 1140.6 L1545.6 1141.7 L1547.3 1142.7 L1549.0 1143.8 L1550.7 1144.8 L1552.4 1145.8 L1554.1 1146.8 L1555.9 1147.9 L1557.6 1148.9 L1559.3 1149.8 L1561.1 1150.8 L1562.8 1151.8 L1564.6 1152.8 L1566.3 1153.7 L1568.1 1154.6 L1569.8 1155.6 L1571.6 1156.5 L1573.4 1157.4 L1575.2 1158.3 L1577.0 1159.1 L1578.8 1160.0 L1580.6 1160.9 L1582.4 1161.7 L1584.2 1162.5 L1586.0 1163.3 L1587.8 1164.1 L1589.6 1164.9 L1591.5 1165.6 L1593.3 1166.4 L1595.2 1167.1 L1597.0 1167.8 L1598.9 1168.5 L1600.7 1169.1 L1602.6 1169.8 L1604.5 1170.4 L1606.4 1171.0 L1608.3 1171.6 L1610.2 1172.2 L1612.1 1172.7 L1614.0 1173.3 L1615.9 1173.8 L1617.8 1174.3 L1619.8 1174.8 L1621.7 1175.3 L1623.6 1175.7 L1625.6 1176.2 L1627.5 1176.6 L1629.5 1177.0 L1631.4 1177.4 L1633.4 1177.8 L1635.3 1178.2 L1637.3 1178.6 L1639.3 1178.9 L1641.2 1179.3 L1643.2 1179.6 L1645.2 1179.9 L1647.1 1180.2 L1649.1 1180.5 L1651.1 1180.7 L1653.1 1181.0 L1655.0 1181.3 L1657.0 1181.5 L1659.0 1181.7 L1661.0 1182.0 L1662.9 1182.2 L1664.9 1182.4 L1666.9 1182.6 L1668.9 1182.8 L1670.9 1182.9 L1672.9 1183.1 L1674.9 1183.3 L1676.9 1183.4 L1678.8 1183.5 L1680.8 1183.7 L1682.8 1183.8 L1684.8 1183.9 L1686.8 1184.0 L1688.8 1184.1 L1690.8 1184.2 L1692.8 1184.3 L1694.8 1184.4 L1696.8 1184.5 L1698.8 1184.5 L1700.8 1184.6 L1702.8 1184.7 L1704.8 1184.7 L1706.8 1184.8 L1708.8 1184.8 L1710.8 1184.9 L1712.8 1184.9 L1714.8 1184.9 L1716.8 1185.0 L1718.8 1185.0 L1720.8 1185.0 L1722.8 1185.0 L1724.8 1185.1 L1726.8 1185.1 L1728.8 1185.1 L1730.9 1185.1 L1732.9 1185.1 L1734.9 1185.1 L1736.9 1185.1 L1738.9 1185.1 L1740.9 1185.1 L1742.9 1185.1 L1744.9 1185.1 L1746.9 1185.1 L1748.9 1185.1 L1750.9 1185.1 L1752.9 1185.1 L1754.9 1185.1 L1756.9 1185.2 L1758.9 1185.2 L1760.9 1185.2 L1762.9 1185.2 L1764.9 1185.2 L1766.9 1185.2 L1768.9 1185.2 L1770.9 1185.2 L1772.9 1185.3 L1774.9 1185.3 L1776.9 1185.3 L1778.9 1185.3 L1780.9 1185.4 L1782.9 1185.4 L1784.9 1185.4 L1786.9 1185.5 L1788.9 1185.5 L1790.9 1185.6 L1792.9 1185.6 L1794.9 1185.7 L1796.9 1185.7 L1798.9 1185.8 L1800.8 1185.8 L1802.8 1185.9 L1804.8 1185.9 L1806.8 1186.0 L1808.8 1186.1 L1810.8 1186.1 L1812.8 1186.2 L1814.8 1186.3 L1816.8 1186.3 L1818.8 1186.4 L1820.7 1186.4 L1822.7 1186.5 L1824.7 1186.6 L1826.7 1186.6 L1828.7 1186.7 L1830.7 1186.8 L1832.7 1186.8 L1834.7 1186.9 L1836.7 1187.0 L1838.6 1187.0 L1840.6 1187.1 L1842.6 1187.1 L1844.6 1187.2 L1846.6 1187.3 L1848.6 1187.3 L1850.6 1187.4 L1852.6 1187.4 L1854.6 1187.5 L1856.5 1187.5 L1858.5 1187.6 L1860.5 1187.6 L1862.5 1187.7 L1864.5 1187.7 L1866.5 1187.7 L1868.5 1187.8 L1870.5 1187.8 L1872.5 1187.8 L1874.5 1187.9 L1876.5 1187.9 L1878.5 1187.9 L1880.5 1187.9 L1882.5 1187.9 L1884.5 1187.9 L1886.4 1188.0 L1888.4 1188.0 L1890.4 1187.9 L1892.4 1187.9 L1894.4 1187.9 L1896.5 1187.9 L1898.5 1187.9 L1900.5 1187.9 L1902.5 1187.8 L1904.5 1187.8 L1906.5 1187.8 L1908.5 1187.7 L1910.5 1187.7 L1912.5 1187.6 L1914.5 1187.5 L1916.5 1187.5" stroke="#000" stroke-width="5.0" stroke-dasharray="21.5 22.12" stroke-dashoffset="3.1"/>
<path d="M434.0 118.5 L436.0 119.0 L437.9 119.6 L439.8 120.2 L441.7 120.8 L443.6 121.3 L445.5 121.9 L447.4 122.4 L449.3 122.9 L451.2 123.4 L453.1 123.8 L455.0 124.3 L456.9 124.7 L458.9 125.2 L460.8 125.6 L462.8 126.0 L464.7 126.3 L466.7 126.7 L468.6 127.1 L470.6 127.4 L472.5 127.8 L474.5 128.1 L476.5 128.4 L478.4 128.7 L480.4 129.0 L482.4 129.3 L484.4 129.6 L486.4 129.8 L488.3 130.1 L490.3 130.4 L492.3 130.6 L494.3 130.9 L496.3 131.1 L498.3 131.4 L500.3 131.6 L502.3 131.8 L504.3 132.0 L506.3 132.3 L508.3 132.5 L510.3 132.7 L512.3 132.9 L514.3 133.2 L516.3 133.4 L518.3 133.6 L520.3 133.8 L522.3 134.0 L524.3 134.3 L526.3 134.5 L528.3 134.7 L530.3 134.9 L532.3 135.2 L534.3 135.4 L536.3 135.7 L538.3 135.9 L540.3 136.2 L542.3 136.4 L544.3 136.7 L546.3 137.0 L548.3 137.3 L550.3 137.6 L552.2 137.9 L554.2 138.2 L556.2 138.5 L558.2 138.8 L560.1 139.2 L562.1 139.5 L564.0 139.9 L566.0 140.2 L567.9 140.6 L569.9 141.0 L571.8 141.4 L573.8 141.9 L575.7 142.3 L577.6 142.8 L579.6 143.3 L581.5 143.7 L583.4 144.2 L585.3 144.8 L587.2 145.3 L589.1 145.8 L591.0 146.4 L592.9 147.0 L594.8 147.6 L596.7 148.2 L598.5 148.8 L600.4 149.4 L602.3 150.1 L604.1 150.7 L606.0 151.4 L607.8 152.1 L609.7 152.8 L611.5 153.5 L613.4 154.2 L615.2 155.0 L617.0 155.7 L618.9 156.5 L620.7 157.2 L622.5 158.0 L624.3 158.8 L626.1 159.6 L627.9 160.5 L629.7 161.3 L631.5 162.1 L633.3 163.0 L635.1 163.9 L636.8 164.7 L638.6 165.6 L640.4 166.5 L642.1 167.4 L643.9 168.3 L645.6 169.3 L647.4 170.2 L649.1 171.2 L650.9 172.1 L652.6 173.1 L654.3 174.1 L656.1 175.1 L657.8 176.1 L659.5 177.1 L661.2 178.1 L662.9 179.1 L664.6 180.1 L666.3 181.2 L668.0 182.2 L669.7 183.3 L671.4 184.4 L673.0 185.4 L674.7 186.5 L676.4 187.6 L678.1 188.7 L679.7 189.8 L681.4 190.9 L683.0 192.1 L684.7 193.2 L686.3 194.3 L687.9 195.5 L689.6 196.6 L691.2 197.8 L692.8 198.9 L694.4 200.1 L696.1 201.3 L697.7 202.5 L699.3 203.7 L700.9 204.8 L702.5 206.0 L704.1 207.2 L705.7 208.5 L707.2 209.7 L708.8 210.9 L710.4 212.1 L712.0 213.3 L713.6 214.6 L715.1 215.8 L716.7 217.0 L718.3 218.3 L719.8 219.5 L721.4 220.8 L722.9 222.0 L724.5 223.3 L726.0 224.5 L727.6 225.8 L729.1 227.1 L730.7 228.3 L732.2 229.6 L733.8 230.9 L735.3 232.1 L736.9 233.4 L738.4 234.7 L739.9 236.0 L741.5 237.2 L743.0 238.5 L744.6 239.8 L746.1 241.0 L747.6 242.3 L749.2 243.6 L750.7 244.9 L752.3 246.1 L753.8 247.4 L755.3 248.7 L756.9 249.9 L758.4 251.2 L760.0 252.5 L761.5 253.7 L763.1 255.0 L764.6 256.2 L766.1 257.5 L767.7 258.8 L769.3 260.0 L770.8 261.2 L772.4 262.5 L773.9 263.7 L775.5 265.0 L777.1 266.2 L778.6 267.4 L780.2 268.6 L781.8 269.9 L783.3 271.1 L784.9 272.3 L786.5 273.5 L788.1 274.7 L789.7 275.9 L791.3 277.1 L792.9 278.2 L794.5 279.4 L796.1 280.6 L797.7 281.8 L799.3 282.9 L800.9 284.1 L802.6 285.2 L804.2 286.3 L805.8 287.5 L807.5 288.6 L809.1 289.7 L810.8 290.8 L812.4 291.9 L814.1 293.0 L815.8 294.1 L817.5 295.1 L819.1 296.2 L820.8 297.2 L822.5 298.3 L824.2 299.3 L825.9 300.3 L827.7 301.3 L829.4 302.3 L831.1 303.3 L832.8 304.3 L834.6 305.3 L836.3 306.3 L838.1 307.2 L839.8 308.2 L841.6 309.1 L843.4 310.1 L845.1 311.0 L846.9 312.0 L848.7 312.9 L850.4 313.8 L852.2 314.8 L854.0 315.7 L855.8 316.6 L857.5 317.6 L859.3 318.5 L861.1 319.4 L862.8 320.4 L864.6 321.3 L866.4 322.2 L868.1 323.2 L869.9 324.1 L871.6 325.1 L873.4 326.1 L875.1 327.0 L876.8 328.0 L878.6 329.0 L880.3 330.0 L882.0 331.0 L883.7 332.0 L885.4 333.1 L887.1 334.1 L888.8 335.2 L890.4 336.2 L892.1 337.3 L893.8 338.4 L895.4 339.5 L897.0 340.6 L898.6 341.8 L900.2 342.9 L901.8 344.1 L903.4 345.3 L905.0 346.5 L906.5 347.8 L908.1 349.0 L909.6 350.3 L911.1 351.6 L912.6 352.9 L914.1 354.2 L915.5 355.6 L916.9 357.0 L918.4 358.4 L919.8 359.8 L921.2 361.3 L922.5 362.8 L923.9 364.3 L925.0 366.0 L925.9 367.7 L927.0 369.5 L928.0 371.2 L929.0 372.9 L930.0 374.7 L931.0 376.4 L932.0 378.1 L933.0 379.9 L933.9 381.6 L934.9 383.4 L935.8 385.2 L936.7 386.9 L937.7 388.7 L938.6 390.5 L939.5 392.3 L940.3 394.1 L941.2 395.9 L942.1 397.7 L942.9 399.5 L943.8 401.3 L944.6 403.1 L945.4 404.9 L946.2 406.7 L947.1 408.5 L947.8 410.3 L948.6 412.2 L949.4 414.0 L950.2 415.8 L950.9 417.7 L951.7 419.5 L952.4 421.3 L953.2 423.2 L953.9 425.0 L954.6 426.9 L955.4 428.7 L956.1 430.6 L956.8 432.5 L957.5 434.3 L958.1 436.2 L958.8 438.1 L959.5 439.9 L960.2 441.8 L960.8 443.7 L961.5 445.6 L962.1 447.4 L962.8 449.3 L963.4 451.2 L964.1 453.1 L964.7 455.0 L965.3 456.9 L965.9 458.8 L966.5 460.7 L967.1 462.6 L967.8 464.5 L968.4 466.4 L968.9 468.3 L969.5 470.2 L970.1 472.1 L970.7 474.0 L971.3 475.9 L971.9 477.8 L972.5 479.7 L973.0 481.6 L973.6 483.5 L974.2 485.5 L974.7 487.4 L975.3 489.3 L975.9 491.2 L976.4 493.1 L977.0 495.0 L977.5 496.9 L978.1 498.9 L978.6 500.8 L979.2 502.7 L979.7 504.6 L980.3 506.5 L980.8 508.5 L981.4 510.4 L981.9 512.3 L982.5 514.2 L983.0 516.1 L983.6 518.1 L984.1 520.0 L984.7 521.9 L985.2 523.8 L985.8 525.7 L986.4 527.7 L986.9 529.6 L987.5 531.5 L988.0 533.4 L988.6 535.3 L989.1 537.2 L989.7 539.2 L990.3 541.1 L990.8 543.0 L991.4 544.9 L992.0 546.8 L992.5 548.7 L993.1 550.6 L993.7 552.5 L994.3 554.4 L994.9 556.3 L995.5 558.2 L996.1 560.1 L996.7 562.0 L997.3 563.9 L997.9 565.8 L998.5 567.7 L999.1 569.6 L999.7 571.5 L1000.3 573.4 L1001.0 575.3 L1001.6 577.2 L1002.2 579.0 L1002.9 580.9 L1003.5 582.8 L1004.2 584.7 L1004.9 586.5 L1005.5 588.4 L1006.2 590.3 L1006.9 592.1 L1007.6 594.0 L1008.0 596.0 L1009.2 597.4 L1010.4 599.0 L1011.5 600.6 L1012.6 602.2 L1013.8 603.9 L1014.9 605.5 L1016.1 607.2 L1017.2 608.9 L1018.4 610.5 L1019.6 612.2 L1020.7 613.9 L1021.9 615.6 L1023.1 617.2 L1024.3 618.9 L1025.6 620.6 L1026.8 622.2 L1028.1 623.8 L1029.4 625.4 L1030.7 627.0 L1032.0 628.6 L1033.3 630.1 L1034.7 631.6 L1036.0 633.1 L1037.4 634.5 L1038.9 635.9 L1040.3 637.3 L1041.8 638.6 L1043.3 639.9 L1044.8 641.1 L1046.4 642.4 L1047.9 643.5 L1049.5 644.7 L1051.2 645.8 L1052.8 646.9 L1054.5 647.9 L1056.1 648.9 L1057.8 649.9 L1059.5 650.9 L1061.3 651.8 L1063.0 652.7 L1064.8 653.6 L1066.5 654.4 L1068.3 655.2 L1070.1 656.1 L1071.9 656.8 L1073.8 657.6 L1075.6 658.4 L1077.5 659.1 L1079.3 659.8 L1081.2 660.5 L1083.0 661.2 L1084.9 661.9 L1086.8 662.5 L1088.7 663.2 L1090.6 663.8 L1092.5 664.5 L1094.4 665.1 L1096.3 665.7 L1098.2 666.3 L1100.1 666.9 L1102.0 667.5 L1104.0 668.1 L1105.9 668.7 L1107.8 669.3 L1109.7 669.9 L1111.6 670.5 L1113.5 671.1 L1115.4 671.6 L1117.4 672.2 L1119.3 672.8 L1121.2 673.4 L1123.1 673.9 L1125.0 674.5 L1127.0 675.1 L1128.9 675.6 L1130.8 676.2 L1132.7 676.7 L1134.7 677.3 L1136.6 677.8 L1138.5 678.4 L1140.4 678.9 L1142.4 679.4 L1144.3 680.0 L1146.2 680.5 L1148.1 681.0 L1150.1 681.6 L1152.0 682.1 L1153.9 682.6 L1155.9 683.1 L1157.8 683.6 L1159.7 684.2 L1161.6 684.7 L1163.6 685.2 L1165.5 685.7 L1167.4 686.2 L1169.4 686.7 L1171.3 687.2 L1173.2 687.8 L1175.2 688.3 L1177.1 688.8 L1179.0 689.3 L1181.0 689.8 L1182.9 690.3 L1184.8 690.8 L1186.8 691.3 L1188.7 691.8 L1190.7 692.3 L1192.6 692.8 L1194.5 693.3 L1196.5 693.8 L1198.4 694.3 L1200.3 694.8 L1202.3 695.3 L1204.2 695.8 L1206.1 696.3 L1208.1 696.8 L1210.0 697.2 L1211.9 697.7 L1213.9 698.2 L1215.8 698.7 L1217.7 699.2 L1219.7 699.7 L1221.6 700.2 L1223.6 700.7 L1225.5 701.2 L1227.4 701.7 L1229.4 702.2 L1231.3 702.7 L1233.2 703.2 L1235.2 703.7 L1237.1 704.2 L1239.0 704.7 L1241.0 705.3 L1242.9 705.8 L1244.8 706.3 L1246.7 706.8 L1248.7 707.3 L1250.6 707.8 L1252.5 708.3 L1254.5 708.8 L1256.4 709.4 L1258.3 709.9 L1260.3 710.4 L1262.2 710.9 L1264.1 711.4 L1266.0 712.0 L1268.0 712.5 L1269.9 713.0 L1271.8 713.5 L1273.7 714.1 L1275.7 714.6 L1277.6 715.1 L1279.5 715.7 L1281.4 716.2 L1283.4 716.7 L1285.3 717.3 L1287.2 717.8 L1289.1 718.4 L1291.1 718.9 L1293.0 719.4 L1294.9 720.0 L1296.8 720.5 L1298.7 721.1 L1300.7 721.6 L1302.6 722.2 L1304.5 722.7 L1306.4 723.3 L1308.4 723.8 L1310.3 724.4 L1312.2 724.9 L1314.1 725.5 L1316.0 726.0 L1317.9 726.6 L1319.9 727.1 L1321.8 727.7 L1323.7 728.3 L1325.6 728.8 L1327.5 729.4 L1329.5 729.9 L1331.4 730.5 L1333.3 731.0 L1335.2 731.6 L1337.1 732.2 L1339.1 732.7 L1341.0 733.3 L1342.9 733.9 L1344.8 734.4 L1346.7 735.0 L1348.6 735.5 L1350.6 736.1 L1352.5 736.7 L1354.4 737.2 L1356.3 737.8 L1358.2 738.4 L1360.1 738.9 L1362.1 739.5 L1364.0 740.1 L1365.9 740.6 L1367.8 741.2 L1369.7 741.8 L1371.6 742.3 L1373.5 742.9 L1375.5 743.5 L1377.4 744.0 L1379.3 744.6 L1381.2 745.2 L1383.1 745.7 L1385.0 746.3 L1387.0 746.9 L1388.9 747.4 L1390.8 748.0 L1392.7 748.6 L1394.6 749.1 L1396.5 749.7 L1398.5 750.3 L1400.4 750.8 L1402.3 751.4 L1404.2 752.0 L1406.1 752.5 L1408.0 753.1 L1410.0 753.7 L1411.9 754.2 L1413.8 754.8 L1415.7 755.4 L1417.6 755.9 L1419.5 756.5 L1421.5 757.1 L1423.4 757.6 L1425.3 758.2 L1427.2 758.7 L1429.1 759.3 L1431.1 759.9 L1433.0 760.4 L1434.9 761.0 L1436.8 761.5 L1438.7 762.1 L1440.6 762.7 L1442.6 763.2 L1444.5 763.8 L1446.4 764.3 L1448.3 764.9 L1450.2 765.4 L1452.2 766.0 L1454.1 766.5 L1456.0 767.1 L1457.9 767.6 L1459.9 768.2 L1461.8 768.7 L1463.7 769.3 L1465.6 769.8 L1467.5 770.4 L1469.5 770.9 L1471.4 771.5 L1473.3 772.0 L1475.2 772.6 L1477.2 773.1 L1479.1 773.6 L1481.0 774.2 L1482.9 774.7 L1484.9 775.3 L1486.8 775.8 L1488.7 776.3 L1490.6 776.9 L1492.6 777.4 L1494.5 777.9 L1496.4 778.5 L1498.3 779.0 L1500.3 779.5 L1502.2 780.0 L1504.1 780.6 L1506.1 781.1 L1508.0 781.6 L1509.9 782.1 L1511.8 782.7 L1513.8 783.2 L1515.7 783.7 L1517.6 784.3 L1519.6 784.8 L1521.5 785.3 L1523.4 785.8 L1525.3 786.4 L1527.3 786.9 L1529.2 787.4 L1531.1 787.9 L1533.1 788.5 L1535.0 789.0 L1536.9 789.5 L1538.8 790.1 L1540.8 790.6 L1542.7 791.1 L1544.6 791.7 L1546.5 792.2 L1548.5 792.7 L1550.4 793.3 L1552.3 793.8 L1554.2 794.4 L1556.2 794.9 L1558.1 795.5 L1560.0 796.0 L1561.9 796.6 L1563.8 797.1 L1565.8 797.7 L1567.7 798.2 L1569.6 798.8 L1571.5 799.3 L1573.4 799.9 L1575.3 800.5 L1577.3 801.0 L1579.2 801.6 L1581.1 802.2 L1583.0 802.8 L1584.9 803.3 L1586.8 803.9 L1588.7 804.5 L1590.6 805.1 L1592.5 805.7 L1594.4 806.3 L1596.3 806.9 L1598.2 807.5 L1600.2 808.1 L1602.1 808.7 L1604.0 809.3 L1605.9 809.9 L1607.8 810.5 L1609.6 811.2 L1611.5 811.8 L1613.4 812.4 L1615.3 813.0 L1617.2 813.7 L1619.1 814.3 L1621.0 815.0 L1622.9 815.6 L1624.8 816.2 L1626.7 816.9 L1628.6 817.5 L1630.5 818.2 L1632.3 818.9 L1634.2 819.5 L1636.1 820.2 L1638.0 820.8 L1639.9 821.5 L1641.8 822.2 L1643.6 822.8 L1645.5 823.5 L1647.4 824.2 L1649.3 824.8 L1651.2 825.5 L1653.1 826.2 L1654.9 826.9 L1656.8 827.5 L1658.7 828.2 L1660.6 828.9 L1662.5 829.6 L1664.3 830.3 L1666.2 830.9 L1668.1 831.6 L1670.0 832.3 L1671.8 833.0 L1673.7 833.7 L1675.6 834.4 L1677.5 835.0 L1679.4 835.7 L1681.2 836.4 L1683.1 837.1 L1685.0 837.8 L1686.9 838.5 L1688.8 839.1 L1690.6 839.8 L1692.5 840.5 L1694.4 841.2 L1696.3 841.9 L1698.2 842.6 L1700.0 843.2 L1701.9 843.9 L1703.8 844.6 L1705.7 845.3 L1707.6 845.9 L1709.4 846.6 L1711.3 847.3 L1713.2 848.0 L1715.1 848.6 L1717.0 849.3 L1718.9 850.0 L1720.7 850.6 L1722.6 851.3 L1724.5 852.0 L1726.4 852.6 L1728.3 853.3 L1730.2 854.0 L1732.1 854.6 L1734.0 855.3 L1735.9 855.9 L1737.7 856.6 L1739.6 857.2 L1741.5 857.9 L1743.4 858.5 L1745.3 859.1 L1747.2 859.8 L1749.1 860.4 L1751.0 861.1 L1752.9 861.7 L1754.8 862.3 L1756.7 862.9 L1758.6 863.6 L1760.5 864.2 L1762.4 864.8 L1764.3 865.4 L1766.2 866.1 L1768.1 866.7 L1770.0 867.3 L1771.9 867.9 L1773.8 868.5 L1775.7 869.1 L1777.6 869.7 L1779.5 870.3 L1781.5 870.9 L1783.4 871.5 L1785.3 872.1 L1787.2 872.7 L1789.1 873.2 L1791.0 873.8 L1792.9 874.4 L1794.8 875.0 L1796.7 875.6 L1798.7 876.1 L1800.6 876.7 L1802.5 877.3 L1804.4 877.8 L1806.3 878.4 L1808.3 878.9 L1810.2 879.5 L1812.1 880.0 L1814.0 880.6 L1815.9 881.1 L1817.9 881.6 L1819.8 882.2 L1821.7 882.7 L1823.6 883.2 L1825.6 883.8 L1827.5 884.3 L1829.4 884.8 L1831.4 885.3 L1833.3 885.8 L1835.2 886.3 L1837.2 886.8 L1839.1 887.3 L1841.0 887.8 L1843.0 888.3 L1844.9 888.8 L1846.8 889.3 L1848.8 889.8 L1850.7 890.3 L1852.6 890.7 L1854.6 891.2 L1856.5 891.7 L1858.5 892.1 L1860.4 892.6 L1862.4 893.0 L1864.3 893.5 L1866.2 893.9 L1868.2 894.4 L1870.1 894.8 L1872.1 895.2 L1874.0 895.7 L1876.0 896.1 L1877.9 896.5 L1879.9 896.9 L1881.9 897.3 L1883.8 897.8 L1885.8 898.2 L1887.7 898.6 L1889.7 898.9 L1891.6 899.3 L1893.6 899.7 L1895.6 900.1 L1897.5 900.5 L1899.5 900.8 L1901.4 901.2 L1903.4 901.6 L1905.4 901.9 L1907.3 902.3 L1909.3 902.6 L1911.3 903.0 L1913.2 903.3 L1915.2 903.6 L1917.2 904.0 L1919.2 904.3 L1921.1 904.6 L1923.1 904.9 L1925.1 905.2 L1927.1 905.5 L1929.0 905.8 L1931.0 906.1 L1933.0 906.4 L1935.0 906.7 L1937.0 906.8" stroke="#000" stroke-width="5.0"/>
<path d="M381.0 97.5 L383.0 97.2 L385.0 97.4 L387.0 97.7 L388.9 97.9 L390.9 98.2 L392.9 98.4 L394.9 98.7 L396.8 98.9 L398.8 99.2 L400.8 99.5 L402.8 99.8 L404.8 100.1 L406.7 100.4 L408.7 100.7 L410.7 101.0 L412.7 101.3 L414.7 101.7 L416.7 102.0 L418.6 102.3 L420.6 102.6 L422.6 102.9 L424.6 103.3 L426.6 103.6 L428.6 103.9 L430.5 104.2 L432.5 104.5 L434.5 104.8 L436.5 105.1 L438.5 105.4 L440.5 105.7 L442.5 106.0 L444.4 106.3 L446.4 106.6 L448.4 106.9 L450.4 107.1 L452.4 107.4 L454.4 107.6 L456.3 107.9 L458.3 108.1 L460.3 108.3 L462.3 108.5 L464.3 108.7 L466.3 108.9 L468.2 109.1 L470.2 109.2 L472.2 109.4 L474.2 109.5 L476.2 109.6 L478.2 109.7 L480.1 109.8 L482.1 109.9 L484.1 110.0 L486.1 110.1 L488.1 110.1 L490.0 110.2 L492.0 110.2 L494.0 110.2 L496.0 110.3 L498.0 110.3 L499.9 110.3 L501.9 110.3 L503.9 110.3 L505.9 110.2 L507.9 110.2 L509.9 110.2 L511.8 110.2 L513.8 110.1 L515.8 110.1 L517.8 110.0 L519.8 110.0 L521.8 109.9 L523.8 109.8 L525.7 109.8 L527.7 109.7 L529.7 109.6 L531.7 109.5 L533.7 109.5 L535.7 109.4 L537.7 109.3 L539.7 109.2 L541.7 109.1 L543.7 109.0 L545.7 108.9 L547.7 108.9 L549.7 108.8 L551.7 108.7 L553.7 108.6 L555.7 108.5 L557.7 108.4 L559.7 108.4 L561.7 108.3 L563.7 108.2 L565.7 108.1 L567.7 108.1 L569.7 108.0 L571.7 107.9 L573.7 107.9 L575.8 107.8 L577.8 107.8 L579.8 107.7 L581.8 107.7 L583.8 107.7 L585.9 107.7 L587.9 107.6 L589.9 107.6 L591.9 107.6 L594.0 107.6 L596.0 107.6 L598.0 107.6 L600.0 107.7 L602.1 107.7 L604.1 107.7 L606.1 107.8 L608.1 107.8 L610.2 107.9 L612.2 108.0 L614.2 108.0 L616.2 108.1 L618.2 108.2 L620.3 108.3 L622.3 108.4 L624.3 108.6 L626.3 108.7 L628.3 108.9 L630.3 109.0 L632.3 109.2 L634.3 109.4 L636.3 109.6 L638.3 109.8 L640.3 110.0 L642.3 110.2 L644.3 110.4 L646.3 110.7 L648.3 111.0 L650.3 111.2 L652.2 111.5 L654.2 111.8 L656.2 112.2 L658.1 112.5 L660.1 112.8 L662.1 113.2 L664.0 113.6 L665.9 114.0 L667.9 114.4 L669.8 114.8 L671.8 115.2 L673.7 115.7 L675.6 116.1 L677.5 116.6 L679.4 117.1 L681.3 117.6 L683.2 118.2 L685.1 118.7 L687.0 119.3 L688.9 119.9 L690.8 120.5 L692.6 121.1 L694.5 121.7 L696.4 122.4 L698.2 123.0 L700.0 123.7 L701.9 124.4 L703.7 125.2 L705.5 125.9 L707.3 126.7 L709.2 127.4 L711.0 128.2 L712.8 129.0 L714.6 129.8 L716.4 130.6 L718.1 131.5 L719.9 132.3 L721.7 133.2 L723.5 134.1 L725.2 135.0 L727.0 135.9 L728.8 136.8 L730.5 137.7 L732.3 138.6 L734.0 139.6 L735.8 140.5 L737.5 141.5 L739.2 142.5 L741.0 143.4 L742.7 144.4 L744.4 145.4 L746.2 146.4 L747.9 147.4 L749.6 148.5 L751.3 149.5 L753.1 150.5 L754.8 151.5 L756.5 152.6 L758.2 153.6 L759.9 154.7 L761.6 155.7 L763.4 156.8 L765.1 157.8 L766.8 158.9 L768.5 160.0 L770.2 161.0 L771.9 162.1 L773.6 163.2 L775.3 164.3 L777.0 165.3 L778.8 166.4 L780.5 167.5 L782.2 168.6 L783.9 169.6 L785.6 170.7 L787.3 171.8 L789.0 172.8 L790.8 173.9 L792.5 175.0 L794.2 176.0 L795.9 177.1 L797.7 178.2 L799.4 179.2 L801.1 180.2 L802.8 181.3 L804.6 182.3 L806.3 183.4 L808.1 184.4 L809.8 185.4 L811.5 186.4 L813.3 187.4 L815.0 188.4 L816.8 189.4 L818.6 190.4 L820.3 191.4 L822.1 192.4 L823.8 193.4 L825.6 194.4 L827.4 195.4 L829.1 196.3 L830.9 197.3 L832.7 198.3 L834.4 199.2 L836.2 200.2 L838.0 201.2 L839.7 202.1 L841.5 203.1 L843.3 204.0 L845.0 205.0 L846.8 206.0 L848.6 206.9 L850.3 207.9 L852.1 208.8 L853.9 209.8 L855.6 210.7 L857.4 211.7 L859.1 212.7 L860.9 213.6 L862.7 214.6 L864.4 215.5 L866.2 216.5 L867.9 217.5 L869.7 218.4 L871.4 219.4 L873.2 220.4 L874.9 221.4 L876.6 222.3 L878.4 223.3 L880.1 224.3 L881.8 225.3 L883.6 226.3 L885.3 227.3 L887.0 228.3 L888.7 229.3 L890.4 230.3 L892.1 231.3 L893.8 232.4 L895.5 233.4 L897.2 234.4 L898.9 235.5 L900.6 236.5 L902.3 237.6 L903.9 238.6 L905.6 239.7 L907.3 240.8 L908.9 241.9 L910.6 242.9 L912.2 244.0 L913.9 245.1 L915.5 246.3 L917.1 247.4 L918.7 248.5 L920.3 249.6 L921.9 250.8 L923.5 252.0 L925.1 253.1 L926.7 254.3 L928.3 255.5 L929.9 256.7 L931.4 257.9 L933.0 259.1 L934.5 260.3 L936.1 261.6 L937.6 262.8 L939.1 264.1 L940.6 265.4 L942.1 266.7 L943.6 268.0 L945.1 269.3 L946.6 270.6 L948.0 272.0 L949.5 273.3 L950.9 274.7 L952.4 276.1 L953.8 277.4 L955.2 278.9 L956.6 280.3 L958.0 281.7 L959.4 283.2 L960.8 284.6 L962.1 286.1 L963.5 287.6 L964.8 289.1 L966.2 290.6 L967.5 292.1 L968.8 293.6 L970.1 295.2 L971.4 296.7 L972.6 298.3 L973.9 299.9 L975.1 301.5 L976.4 303.1 L977.6 304.7 L978.8 306.3 L980.0 307.9 L981.2 309.6 L982.4 311.2 L983.5 312.9 L984.7 314.6 L985.8 316.2 L986.9 317.9 L988.0 319.6 L989.1 321.3 L990.2 323.0 L991.3 324.7 L992.3 326.5 L993.3 328.2 L994.4 330.0 L995.4 331.7 L996.4 333.5 L997.3 335.2 L998.3 337.0 L999.3 338.8 L1000.2 340.6 L1001.1 342.3 L1002.0 344.1 L1002.9 345.9 L1003.8 347.8 L1004.6 349.6 L1005.4 351.4 L1006.3 353.2 L1007.1 355.0 L1007.9 356.9 L1008.7 358.7 L1009.4 360.6 L1010.2 362.4 L1010.9 364.2 L1011.7 366.1 L1012.4 368.0 L1013.1 369.8 L1013.8 371.7 L1014.5 373.6 L1015.2 375.4 L1015.9 377.3 L1016.5 379.2 L1017.2 381.1 L1017.8 382.9 L1018.5 384.8 L1019.1 386.7 L1019.8 388.6 L1020.4 390.5 L1021.0 392.4 L1021.6 394.3 L1022.3 396.2 L1022.9 398.0 L1023.5 399.9 L1024.1 401.8 L1024.7 403.7 L1025.3 405.6 L1025.9 407.5 L1026.5 409.4 L1027.1 411.4 L1027.6 413.3 L1028.2 415.2 L1028.8 417.1 L1029.3 419.0 L1029.9 420.9 L1030.5 422.8 L1031.0 424.7 L1031.6 426.6 L1032.1 428.6 L1032.7 430.5 L1033.2 432.4 L1033.7 434.3 L1034.3 436.2 L1034.8 438.2 L1035.3 440.1 L1035.8 442.0 L1036.3 443.9 L1036.9 445.9 L1037.4 447.8 L1037.9 449.7 L1038.4 451.7 L1038.9 453.6 L1039.4 455.5 L1039.9 457.5 L1040.4 459.4 L1040.9 461.3 L1041.3 463.3 L1041.8 465.2 L1042.3 467.1 L1042.8 469.1 L1043.2 471.0 L1043.7 473.0 L1044.2 474.9 L1044.7 476.9 L1045.1 478.8 L1045.6 480.7 L1046.0 482.7 L1046.5 484.6 L1046.9 486.6 L1047.4 488.5 L1047.8 490.5 L1048.3 492.4 L1048.7 494.4 L1049.2 496.3 L1049.6 498.3 L1050.0 500.2 L1050.5 502.2 L1050.9 504.1 L1051.3 506.1 L1051.8 508.0 L1052.2 510.0 L1052.6 512.0 L1053.0 513.9 L1053.5 515.9 L1053.9 517.8 L1054.3 519.8 L1054.7 521.7 L1055.1 523.7 L1055.6 525.7 L1056.0 527.6 L1056.4 529.6 L1056.8 531.5 L1057.2 533.5 L1057.6 535.5 L1058.0 537.4 L1058.4 539.4 L1058.8 541.3 L1059.2 543.3 L1059.6 545.3 L1060.0 547.2 L1060.4 549.2 L1060.8 551.2 L1061.2 553.1 L1061.6 555.1 L1062.0 557.1 L1062.4 559.0 L1062.8 561.0 L1063.2 562.9 L1063.6 564.9 L1064.0 566.9 L1064.4 568.8 L1064.8 570.8 L1065.2 572.8 L1065.6 574.7 L1066.0 576.7 L1066.3 578.7 L1066.7 580.6 L1067.1 582.6 L1067.5 584.5 L1067.9 586.5 L1068.3 588.5 L1068.7 590.4 L1069.1 592.4 L1069.5 594.4 L1069.9 596.3 L1070.3 598.3 L1070.7 600.2 L1071.1 602.2 L1071.5 604.2 L1071.8 606.1 L1072.2 608.1 L1072.6 610.1 L1073.0 612.0 L1073.4 614.0 L1073.8 615.9 L1074.2 617.9 L1074.6 619.8 L1075.0 621.8 L1075.4 623.8 L1075.8 625.7 L1076.2 627.7 L1076.6 629.6 L1077.0 631.6 L1077.5 633.5 L1077.9 635.5 L1078.3 637.5 L1078.7 639.4 L1079.1 641.4 L1079.5 643.3 L1079.9 645.3 L1080.3 647.2 L1080.8 649.2 L1081.2 651.1 L1081.6 653.1 L1082.0 655.0 L1082.4 657.0 L1082.9 658.9 L1083.3 660.9 L1083.7 662.8 L1084.1 664.8 L1084.6 666.7 L1085.0 668.7 L1085.4 670.6 L1085.8 672.5 L1086.3 674.5 L1086.7 676.4 L1087.1 678.4 L1087.6 680.3 L1088.0 682.3 L1088.4 684.2 L1088.8 686.2 L1089.3 688.1 L1089.7 690.1 L1090.1 692.0 L1090.6 694.0 L1091.0 695.9 L1091.4 697.9 L1091.9 699.8 L1092.3 701.7 L1092.7 703.7 L1093.1 705.6 L1093.6 707.6 L1094.0 709.5 L1094.4 711.5 L1094.8 713.4 L1095.3 715.4 L1095.7 717.4 L1096.1 719.3 L1096.5 721.3 L1097.0 723.2 L1097.4 725.2 L1097.8 727.1 L1098.2 729.1 L1098.6 731.0 L1099.0 733.0 L1099.4 735.0 L1099.9 736.9 L1100.3 738.9 L1100.7 740.8 L1101.1 742.8 L1101.5 744.8 L1101.9 746.7 L1102.4 748.7 L1102.8 750.6 L1103.2 752.6 L1103.6 754.6 L1104.1 756.5 L1104.5 758.5 L1104.9 760.4 L1105.4 762.4 L1105.8 764.3 L1106.3 766.3 L1106.7 768.3 L1107.2 770.2 L1107.7 772.2 L1108.2 774.1 L1108.6 776.0 L1109.1 778.0 L1109.6 779.9 L1110.1 781.9 L1110.7 783.8 L1111.2 785.7 L1111.7 787.7 L1112.3 789.6 L1112.8 791.5 L1113.4 793.4 L1114.0 795.4 L1114.5 797.3 L1115.1 799.2 L1115.7 801.1 L1116.4 803.0 L1117.0 804.9 L1117.6 806.8 L1118.3 808.7 L1119.0 810.6 L1119.6 812.5 L1120.3 814.4 L1121.1 816.3 L1121.8 818.1 L1122.5 820.0 L1123.3 821.9 L1124.0 823.7 L1124.8 825.6 L1125.6 827.4 L1126.4 829.3 L1127.2 831.1 L1128.1 832.9 L1128.9 834.8 L1129.8 836.6 L1130.7 838.4 L1131.6 840.2 L1132.5 842.0 L1133.4 843.8 L1134.3 845.5 L1135.3 847.3 L1136.2 849.1 L1137.2 850.8 L1138.2 852.6 L1139.2 854.3 L1140.2 856.0 L1141.3 857.8 L1142.3 859.5 L1143.4 861.2 L1144.5 862.8 L1145.6 864.5 L1146.7 866.2 L1147.8 867.8 L1148.9 869.5 L1150.1 871.1 L1151.2 872.7 L1152.4 874.3 L1153.6 875.9 L1154.8 877.5 L1156.0 879.1 L1157.3 880.6 L1158.5 882.2 L1159.8 883.7 L1161.1 885.2 L1162.3 886.7 L1163.7 888.2 L1165.0 889.7 L1166.3 891.1 L1167.7 892.6 L1169.0 894.0 L1170.4 895.4 L1171.8 896.8 L1173.2 898.2 L1174.6 899.6 L1176.1 900.9 L1177.5 902.3 L1179.0 903.6 L1180.5 904.9 L1182.0 906.2 L1183.5 907.4 L1185.0 908.7 L1186.5 909.9 L1188.1 911.1 L1189.7 912.3 L1191.3 913.5 L1192.8 914.7 L1194.5 915.8 L1196.1 916.9 L1197.7 918.0 L1199.4 919.1 L1201.1 920.2 L1202.7 921.2 L1204.4 922.3 L1206.1 923.3 L1207.9 924.3 L1209.6 925.3 L1211.3 926.2 L1213.1 927.2 L1214.9 928.1 L1216.6 929.1 L1218.4 930.0 L1220.2 930.9 L1222.0 931.7 L1223.8 932.6 L1225.6 933.5 L1227.5 934.3 L1229.3 935.2 L1231.1 936.0 L1233.0 936.8 L1234.9 937.6 L1236.7 938.4 L1238.6 939.2 L1240.5 940.0 L1242.3 940.7 L1244.2 941.5 L1246.1 942.2 L1248.0 943.0 L1249.9 943.7 L1251.8 944.5 L1253.7 945.2 L1255.6 945.9 L1257.5 946.6 L1259.4 947.3 L1261.3 948.0 L1263.2 948.7 L1265.1 949.4 L1267.0 950.1 L1268.9 950.8 L1270.8 951.5 L1272.7 952.1 L1274.6 952.8 L1276.5 953.5 L1278.4 954.2 L1280.3 954.8 L1282.2 955.5 L1284.1 956.2 L1286.0 956.8 L1287.9 957.5 L1289.8 958.2 L1291.7 958.8 L1293.6 959.5 L1295.4 960.1 L1297.3 960.8 L1299.2 961.4 L1301.1 962.1 L1303.0 962.7 L1304.9 963.3 L1306.8 964.0 L1308.7 964.6 L1310.6 965.2 L1312.5 965.8 L1314.4 966.4 L1316.3 967.0 L1318.2 967.7 L1320.1 968.3 L1322.0 968.9 L1323.9 969.4 L1325.8 970.0 L1327.7 970.6 L1329.6 971.2 L1331.5 971.8 L1333.4 972.3 L1335.3 972.9 L1337.2 973.5 L1339.1 974.0 L1341.1 974.6 L1343.0 975.1 L1344.9 975.7 L1346.8 976.2 L1348.7 976.8 L1350.7 977.3 L1352.6 977.8 L1354.5 978.4 L1356.4 978.9 L1358.4 979.4 L1360.3 979.9 L1362.2 980.4 L1364.1 980.9 L1366.1 981.4 L1368.0 981.9 L1369.9 982.4 L1371.9 982.9 L1373.8 983.4 L1375.7 983.9 L1377.7 984.4 L1379.6 984.8 L1381.5 985.3 L1383.5 985.8 L1385.4 986.2 L1387.4 986.7 L1389.3 987.1 L1391.3 987.6 L1393.2 988.0 L1395.1 988.5 L1397.1 988.9 L1399.0 989.4 L1401.0 989.8 L1402.9 990.2 L1404.9 990.6 L1406.8 991.1 L1408.8 991.5 L1410.7 991.9 L1412.7 992.3 L1414.7 992.7 L1416.6 993.1 L1418.6 993.5 L1420.5 993.9 L1422.5 994.3 L1424.4 994.7 L1426.4 995.1 L1428.4 995.4 L1430.3 995.8 L1432.3 996.2 L1434.2 996.6 L1436.2 996.9 L1438.2 997.3 L1440.1 997.7 L1442.1 998.0 L1444.1 998.4 L1446.0 998.7 L1448.0 999.1 L1450.0 999.4 L1451.9 999.7 L1453.9 1000.1 L1455.9 1000.4 L1457.8 1000.7 L1459.8 1001.1 L1461.8 1001.4 L1463.7 1001.7 L1465.7 1002.0 L1467.7 1002.3 L1469.7 1002.6 L1471.6 1003.0 L1473.6 1003.3 L1475.6 1003.6 L1477.6 1003.9 L1479.5 1004.2 L1481.5 1004.5 L1483.5 1004.8 L1485.5 1005.0 L1487.4 1005.3 L1489.4 1005.6 L1491.4 1005.9 L1493.4 1006.2 L1495.4 1006.5 L1497.3 1006.7 L1499.3 1007.0 L1501.3 1007.3 L1503.3 1007.5 L1505.3 1007.8 L1507.2 1008.1 L1509.2 1008.3 L1511.2 1008.6 L1513.2 1008.9 L1515.2 1009.1 L1517.1 1009.4 L1519.1 1009.6 L1521.1 1009.9 L1523.1 1010.1 L1525.1 1010.4 L1527.1 1010.7 L1529.0 1010.9 L1531.0 1011.1 L1533.0 1011.4 L1535.0 1011.6 L1537.0 1011.9 L1539.0 1012.1 L1541.0 1012.4 L1542.9 1012.6 L1544.9 1012.8 L1546.9 1013.1 L1548.9 1013.3 L1550.9 1013.6 L1552.9 1013.8 L1554.9 1014.0 L1556.9 1014.3 L1558.8 1014.5 L1560.8 1014.7 L1562.8 1015.0 L1564.8 1015.2 L1566.8 1015.4 L1568.8 1015.7 L1570.8 1015.9 L1572.8 1016.1 L1574.7 1016.4 L1576.7 1016.6 L1578.7 1016.8 L1580.7 1017.0 L1582.7 1017.3 L1584.7 1017.5 L1586.7 1017.7 L1588.7 1018.0 L1590.6 1018.2 L1592.6 1018.4 L1594.6 1018.7 L1596.6 1018.9 L1598.6 1019.1 L1600.6 1019.4 L1602.6 1019.6 L1604.6 1019.8 L1606.5 1020.1 L1608.5 1020.3 L1610.5 1020.5 L1612.5 1020.8 L1614.5 1021.0 L1616.5 1021.2 L1618.5 1021.5 L1620.5 1021.7 L1622.4 1022.0 L1624.4 1022.2 L1626.4 1022.5 L1628.4 1022.7 L1630.4 1022.9 L1632.4 1023.2 L1634.4 1023.4 L1636.3 1023.7 L1638.3 1023.9 L1640.3 1024.2 L1642.3 1024.4 L1644.3 1024.7 L1646.3 1025.0 L1648.2 1025.2 L1650.2 1025.5 L1652.2 1025.7 L1654.2 1026.0 L1656.2 1026.3 L1658.1 1026.5 L1660.1 1026.8 L1662.1 1027.1 L1664.1 1027.4 L1666.1 1027.6 L1668.0 1027.9 L1670.0 1028.2 L1672.0 1028.5 L1674.0 1028.8 L1676.0 1029.0 L1677.9 1029.3 L1679.9 1029.6 L1681.9 1029.9 L1683.9 1030.2 L1685.8 1030.5 L1687.8 1030.8 L1689.8 1031.1 L1691.8 1031.4 L1693.7 1031.7 L1695.7 1032.1 L1697.7 1032.4 L1699.7 1032.7 L1701.6 1033.0 L1703.6 1033.3 L1705.6 1033.7 L1707.5 1034.0 L1709.5 1034.3 L1711.5 1034.7 L1713.4 1035.0 L1715.4 1035.3 L1717.4 1035.7 L1719.3 1036.0 L1721.3 1036.4 L1723.3 1036.7 L1725.2 1037.1 L1727.2 1037.5 L1729.2 1037.8 L1731.1 1038.2 L1733.1 1038.6 L1735.1 1038.9 L1737.0 1039.3 L1739.0 1039.7 L1740.9 1040.1 L1742.9 1040.4 L1744.9 1040.8 L1746.8 1041.2 L1748.8 1041.6 L1750.7 1042.0 L1752.7 1042.4 L1754.7 1042.8 L1756.6 1043.2 L1758.6 1043.6 L1760.5 1044.0 L1762.5 1044.4 L1764.4 1044.8 L1766.4 1045.2 L1768.3 1045.6 L1770.3 1046.1 L1772.3 1046.5 L1774.2 1046.9 L1776.2 1047.3 L1778.1 1047.7 L1780.1 1048.2 L1782.0 1048.6 L1784.0 1049.0 L1785.9 1049.5 L1787.9 1049.9 L1789.8 1050.3 L1791.8 1050.8 L1793.7 1051.2 L1795.7 1051.7 L1797.6 1052.1 L1799.6 1052.6 L1801.5 1053.0 L1803.4 1053.5 L1805.4 1053.9 L1807.3 1054.4 L1809.3 1054.8 L1811.2 1055.3 L1813.2 1055.8 L1815.1 1056.2 L1817.1 1056.7 L1819.0 1057.2 L1820.9 1057.6 L1822.9 1058.1 L1824.8 1058.6 L1826.8 1059.1 L1828.7 1059.5 L1830.6 1060.0 L1832.6 1060.5 L1834.5 1061.0 L1836.5 1061.5 L1838.4 1062.0 L1840.3 1062.4 L1842.3 1062.9 L1844.2 1063.4 L1846.2 1063.9 L1848.1 1064.4 L1850.0 1064.9 L1852.0 1065.4 L1853.9 1065.9 L1855.8 1066.4 L1857.8 1066.9 L1859.7 1067.4 L1861.7 1067.9 L1863.6 1068.4 L1865.5 1068.9 L1867.5 1069.4 L1869.4 1069.9 L1871.3 1070.4 L1873.3 1071.0 L1875.2 1071.5 L1877.1 1072.0 L1879.1 1072.5 L1881.0 1073.0 L1882.9 1073.5 L1884.8 1074.1 L1886.8 1074.6 L1888.7 1075.1 L1890.6 1075.6 L1892.6 1076.1 L1894.5 1076.7 L1896.4 1077.2 L1898.4 1077.7 L1900.3 1078.3 L1902.2 1078.8 L1904.1 1079.3 L1906.1 1079.8 L1908.0 1080.4 L1909.9 1080.9 L1911.9 1081.4 L1913.8 1082.0 L1915.7 1082.5 L1917.6 1083.0 L1919.6 1083.6 L1921.5 1084.1 L1923.4 1084.7 L1925.3 1085.2 L1927.3 1085.7 L1929.2 1086.3 L1931.1 1086.8 L1933.0 1087.4 L1935.0 1087.9 L1937.0 1088.0" stroke="#ff0000" stroke-width="5.0" stroke-dasharray="21 22.54"/>
<path d="M381.0 98.0 L382.9 98.5 L384.8 99.0 L386.7 99.5 L388.6 100.0 L390.6 100.5 L392.5 101.1 L394.4 101.6 L396.3 102.2 L398.2 102.8 L400.1 103.3 L402.1 103.9 L404.0 104.5 L405.9 105.0 L407.9 105.6 L409.8 106.2 L411.7 106.8 L413.6 107.3 L415.6 107.9 L417.5 108.5 L419.5 109.0 L421.4 109.6 L423.3 110.1 L425.3 110.7 L427.2 111.2 L429.2 111.8 L431.1 112.3 L433.1 112.8 L435.0 113.3 L436.9 113.8 L438.9 114.2 L440.8 114.7 L442.8 115.1 L444.7 115.6 L446.7 116.0 L448.6 116.4 L450.6 116.8 L452.5 117.1 L454.5 117.5 L456.4 117.8 L458.4 118.2 L460.3 118.5 L462.3 118.8 L464.2 119.1 L466.2 119.4 L468.2 119.6 L470.1 119.9 L472.1 120.1 L474.0 120.4 L476.0 120.6 L478.0 120.8 L479.9 121.1 L481.9 121.3 L483.9 121.5 L485.8 121.6 L487.8 121.8 L489.8 122.0 L491.7 122.2 L493.7 122.3 L495.7 122.5 L497.7 122.6 L499.7 122.7 L501.7 122.9 L503.6 123.0 L505.6 123.1 L507.6 123.2 L509.6 123.3 L511.6 123.4 L513.6 123.5 L515.6 123.6 L517.6 123.7 L519.6 123.8 L521.6 123.9 L523.6 124.0 L525.6 124.1 L527.6 124.1 L529.6 124.2 L531.6 124.3 L533.6 124.3 L535.7 124.4 L537.7 124.5 L539.7 124.5 L541.7 124.6 L543.7 124.6 L545.7 124.7 L547.7 124.8 L549.7 124.8 L551.8 124.9 L553.8 124.9 L555.8 125.0 L557.8 125.0 L559.8 125.1 L561.9 125.1 L563.9 125.2 L565.9 125.3 L567.9 125.3 L569.9 125.4 L571.9 125.4 L574.0 125.5 L576.0 125.6 L578.0 125.6 L580.0 125.7 L582.0 125.8 L584.1 125.9 L586.1 125.9 L588.1 126.0 L590.1 126.1 L592.1 126.2 L594.1 126.3 L596.1 126.4 L598.2 126.5 L600.2 126.6 L602.2 126.7 L604.2 126.8 L606.2 127.0 L608.2 127.1 L610.2 127.2 L612.2 127.4 L614.2 127.5 L616.2 127.7 L618.2 127.8 L620.2 128.0 L622.2 128.2 L624.2 128.4 L626.2 128.6 L628.2 128.8 L630.2 129.0 L632.1 129.2 L634.1 129.4 L636.1 129.6 L638.1 129.9 L640.1 130.1 L642.0 130.4 L644.0 130.6 L646.0 130.9 L648.0 131.2 L649.9 131.5 L651.9 131.8 L653.9 132.1 L655.8 132.4 L657.8 132.8 L659.7 133.1 L661.7 133.5 L663.6 133.9 L665.6 134.3 L667.5 134.7 L669.4 135.1 L671.4 135.5 L673.3 135.9 L675.2 136.4 L677.1 136.8 L679.1 137.3 L681.0 137.8 L682.9 138.3 L684.8 138.8 L686.7 139.3 L688.6 139.9 L690.5 140.4 L692.4 141.0 L694.3 141.6 L696.2 142.2 L698.1 142.8 L699.9 143.5 L701.8 144.1 L703.7 144.8 L705.5 145.5 L707.4 146.2 L709.2 146.9 L711.1 147.6 L713.0 148.3 L714.8 149.1 L716.6 149.8 L718.5 150.6 L720.3 151.4 L722.1 152.2 L724.0 153.0 L725.8 153.8 L727.6 154.7 L729.4 155.5 L731.2 156.4 L733.0 157.2 L734.9 158.1 L736.7 159.0 L738.5 159.9 L740.3 160.8 L742.1 161.7 L743.9 162.6 L745.6 163.5 L747.4 164.5 L749.2 165.4 L751.0 166.3 L752.8 167.3 L754.6 168.2 L756.3 169.2 L758.1 170.1 L759.9 171.1 L761.7 172.1 L763.4 173.0 L765.2 174.0 L767.0 175.0 L768.7 175.9 L770.5 176.9 L772.2 177.9 L774.0 178.9 L775.8 179.9 L777.5 180.8 L779.3 181.8 L781.0 182.8 L782.8 183.8 L784.5 184.7 L786.3 185.7 L788.0 186.7 L789.8 187.7 L791.5 188.6 L793.3 189.6 L795.0 190.6 L796.7 191.5 L798.5 192.5 L800.2 193.5 L802.0 194.5 L803.7 195.4 L805.5 196.4 L807.2 197.3 L808.9 198.3 L810.7 199.3 L812.4 200.2 L814.2 201.2 L815.9 202.1 L817.6 203.1 L819.4 204.1 L821.1 205.0 L822.9 206.0 L824.6 206.9 L826.4 207.9 L828.1 208.8 L829.8 209.8 L831.6 210.7 L833.3 211.7 L835.1 212.6 L836.8 213.6 L838.6 214.5 L840.3 215.5 L842.1 216.4 L843.8 217.4 L845.6 218.3 L847.3 219.2 L849.1 220.2 L850.8 221.1 L852.6 222.1 L854.3 223.0 L856.1 223.9 L857.8 224.9 L859.6 225.8 L861.4 226.8 L863.1 227.7 L864.9 228.6 L866.6 229.6 L868.4 230.5 L870.2 231.4 L871.9 232.4 L873.7 233.3 L875.5 234.2 L877.2 235.2 L879.0 236.1 L880.7 237.1 L882.5 238.0 L884.3 239.0 L886.0 240.0 L887.8 240.9 L889.5 241.9 L891.2 242.9 L893.0 243.9 L894.7 244.9 L896.4 245.9 L898.2 246.9 L899.9 247.9 L901.6 248.9 L903.3 250.0 L905.0 251.0 L906.7 252.1 L908.4 253.2 L910.0 254.2 L911.7 255.3 L913.4 256.4 L915.0 257.5 L916.7 258.7 L918.3 259.8 L919.9 261.0 L921.5 262.1 L923.2 263.3 L924.8 264.5 L926.3 265.7 L927.9 267.0 L929.5 268.2 L931.0 269.5 L932.6 270.7 L934.1 272.0 L935.6 273.3 L937.1 274.7 L938.6 276.0 L940.1 277.3 L941.6 278.7 L943.1 280.0 L944.6 281.4 L946.1 282.7 L947.6 284.1 L949.1 285.4 L950.6 286.8 L952.1 288.1 L953.6 289.4 L955.1 290.7 L956.6 292.1 L958.1 293.4 L959.6 294.7 L961.1 296.0 L962.6 297.3 L964.2 298.6 L965.7 299.9 L967.2 301.2 L968.7 302.5 L970.2 303.8 L971.6 305.1 L973.1 306.4 L974.6 307.8 L976.0 309.1 L977.4 310.5 L978.9 311.9 L980.3 313.3 L981.7 314.7 L983.1 316.1 L984.5 317.5 L985.9 318.9 L987.3 320.4 L988.6 321.8 L990.0 323.3 L991.3 324.8 L992.7 326.2 L994.0 327.7 L995.3 329.2 L996.7 330.7 L998.0 332.2 L999.3 333.7 L1000.6 335.3 L1001.9 336.8 L1003.2 338.4 L1004.4 339.9 L1005.7 341.5 L1006.9 343.1 L1008.2 344.6 L1009.4 346.2 L1010.6 347.8 L1011.8 349.5 L1013.0 351.1 L1014.1 352.7 L1015.3 354.4 L1016.4 356.0 L1017.5 357.7 L1018.6 359.3 L1019.7 361.0 L1020.7 362.7 L1021.8 364.4 L1022.8 366.2 L1023.8 367.9 L1024.7 369.6 L1025.7 371.4 L1026.6 373.1 L1027.5 374.9 L1028.4 376.7 L1029.2 378.5 L1030.0 380.3 L1030.9 382.1 L1031.7 384.0 L1032.4 385.8 L1033.2 387.6 L1033.9 389.5 L1034.7 391.3 L1035.4 393.2 L1036.1 395.1 L1036.8 396.9 L1037.6 398.8 L1038.3 400.7 L1038.9 402.5 L1039.6 404.4 L1040.3 406.3 L1041.0 408.2 L1041.7 410.1 L1042.3 412.0 L1043.0 413.8 L1043.7 415.7 L1044.3 417.6 L1045.0 419.5 L1045.6 421.4 L1046.2 423.3 L1046.9 425.2 L1047.5 427.1 L1048.1 429.0 L1048.7 430.9 L1049.3 432.9 L1049.9 434.8 L1050.5 436.7 L1051.1 438.6 L1051.7 440.5 L1052.3 442.4 L1052.9 444.3 L1053.5 446.3 L1054.0 448.2 L1054.6 450.1 L1055.1 452.0 L1055.7 453.9 L1056.2 455.9 L1056.8 457.8 L1057.3 459.7 L1057.8 461.6 L1058.3 463.6 L1058.9 465.5 L1059.4 467.4 L1059.9 469.4 L1060.4 471.3 L1060.9 473.2 L1061.4 475.2 L1061.8 477.1 L1062.3 479.0 L1062.8 481.0 L1063.3 482.9 L1063.7 484.8 L1064.2 486.8 L1064.6 488.7 L1065.1 490.7 L1065.5 492.6 L1066.0 494.5 L1066.4 496.5 L1066.8 498.4 L1067.2 500.4 L1067.7 502.3 L1068.1 504.3 L1068.5 506.2 L1068.9 508.2 L1069.3 510.1 L1069.7 512.1 L1070.1 514.0 L1070.4 516.0 L1070.8 518.0 L1071.2 519.9 L1071.6 521.9 L1071.9 523.8 L1072.3 525.8 L1072.7 527.8 L1073.0 529.7 L1073.4 531.7 L1073.7 533.7 L1074.1 535.6 L1074.4 537.6 L1074.8 539.6 L1075.1 541.6 L1075.4 543.5 L1075.8 545.5 L1076.1 547.5 L1076.5 549.5 L1076.8 551.4 L1077.1 553.4 L1077.5 555.4 L1077.8 557.3 L1078.2 559.3 L1078.5 561.3 L1078.9 563.3 L1079.3 565.2 L1079.6 567.2 L1080.0 569.2 L1080.4 571.1 L1080.8 573.1 L1081.1 575.0 L1081.5 577.0 L1081.9 579.0 L1082.3 580.9 L1082.7 582.9 L1083.2 584.8 L1083.6 586.8 L1084.0 588.7 L1084.4 590.7 L1084.8 592.6 L1085.3 594.6 L1085.7 596.6 L1086.1 598.5 L1086.5 600.5 L1087.0 602.4 L1087.4 604.4 L1087.8 606.3 L1088.3 608.3 L1088.7 610.2 L1089.2 612.1 L1089.6 614.1 L1090.0 616.0 L1090.5 618.0 L1090.9 619.9 L1091.3 621.9 L1091.7 623.8 L1092.2 625.8 L1092.6 627.7 L1093.0 629.7 L1093.4 631.7 L1093.8 633.6 L1094.3 635.6 L1094.7 637.5 L1095.1 639.5 L1095.5 641.4 L1095.9 643.4 L1096.3 645.3 L1096.6 647.3 L1097.0 649.3 L1097.4 651.2 L1097.8 653.2 L1098.2 655.1 L1098.5 657.1 L1098.9 659.1 L1099.3 661.0 L1099.6 663.0 L1100.0 665.0 L1100.3 666.9 L1100.7 668.9 L1101.1 670.9 L1101.4 672.8 L1101.8 674.8 L1102.1 676.8 L1102.5 678.7 L1102.8 680.7 L1103.2 682.7 L1103.5 684.7 L1103.9 686.6 L1104.2 688.6 L1104.6 690.6 L1104.9 692.5 L1105.3 694.5 L1105.6 696.5 L1106.0 698.4 L1106.3 700.4 L1106.7 702.4 L1107.0 704.3 L1107.4 706.3 L1107.8 708.3 L1108.1 710.2 L1108.5 712.2 L1108.9 714.2 L1109.2 716.1 L1109.6 718.1 L1110.0 720.1 L1110.4 722.0 L1110.8 724.0 L1111.1 725.9 L1111.5 727.9 L1111.9 729.9 L1112.3 731.8 L1112.7 733.8 L1113.2 735.7 L1113.6 737.7 L1114.0 739.6 L1114.4 741.6 L1114.9 743.5 L1115.3 745.5 L1115.8 747.4 L1116.2 749.4 L1116.7 751.3 L1117.2 753.3 L1117.6 755.2 L1118.1 757.1 L1118.6 759.1 L1119.2 761.0 L1119.7 762.9 L1120.2 764.8 L1120.8 766.7 L1121.3 768.7 L1121.9 770.6 L1122.5 772.5 L1123.1 774.4 L1123.7 776.3 L1124.3 778.2 L1125.0 780.0 L1125.6 781.9 L1126.3 783.8 L1127.0 785.7 L1127.7 787.5 L1128.4 789.4 L1129.1 791.3 L1129.9 793.1 L1130.6 795.0 L1131.4 796.8 L1132.2 798.7 L1133.0 800.5 L1133.8 802.3 L1134.6 804.2 L1135.4 806.0 L1136.2 807.8 L1137.1 809.6 L1137.9 811.4 L1138.8 813.2 L1139.6 815.1 L1140.5 816.9 L1141.4 818.7 L1142.3 820.5 L1143.1 822.3 L1144.0 824.1 L1144.9 825.9 L1145.8 827.6 L1146.7 829.4 L1147.6 831.2 L1148.5 833.0 L1149.4 834.8 L1150.3 836.6 L1151.2 838.4 L1152.1 840.2 L1153.0 841.9 L1153.9 843.7 L1154.8 845.5 L1155.8 847.2 L1156.7 849.0 L1157.6 850.7 L1158.6 852.5 L1159.6 854.2 L1160.6 855.9 L1161.7 857.6 L1162.7 859.3 L1163.8 860.9 L1164.9 862.6 L1166.1 864.2 L1167.3 865.8 L1168.5 867.4 L1169.8 868.9 L1171.2 870.4 L1172.5 871.9 L1173.9 873.4 L1175.5 874.8 L1177.1 875.9 L1178.5 877.3 L1180.0 878.8 L1181.5 880.2 L1183.0 881.6 L1184.5 882.9 L1186.0 884.3 L1187.6 885.6 L1189.1 887.0 L1190.7 888.3 L1192.2 889.6 L1193.8 890.8 L1195.4 892.1 L1196.9 893.3 L1198.5 894.5 L1200.1 895.8 L1201.7 896.9 L1203.4 898.1 L1205.0 899.3 L1206.6 900.4 L1208.3 901.6 L1209.9 902.7 L1211.6 903.8 L1213.2 904.9 L1214.9 905.9 L1216.6 907.0 L1218.3 908.1 L1220.0 909.1 L1221.7 910.1 L1223.4 911.1 L1225.1 912.1 L1226.8 913.1 L1228.5 914.1 L1230.3 915.0 L1232.0 916.0 L1233.8 916.9 L1235.5 917.8 L1237.3 918.7 L1239.0 919.6 L1240.8 920.5 L1242.6 921.4 L1244.4 922.3 L1246.1 923.1 L1247.9 924.0 L1249.7 924.8 L1251.5 925.6 L1253.3 926.5 L1255.1 927.3 L1257.0 928.1 L1258.8 928.9 L1260.6 929.6 L1262.4 930.4 L1264.3 931.2 L1266.1 931.9 L1268.0 932.7 L1269.8 933.4 L1271.7 934.2 L1273.5 934.9 L1275.4 935.6 L1277.2 936.3 L1279.1 937.1 L1281.0 937.8 L1282.8 938.4 L1284.7 939.1 L1286.6 939.8 L1288.5 940.5 L1290.3 941.2 L1292.2 941.8 L1294.1 942.5 L1296.0 943.2 L1297.9 943.8 L1299.8 944.5 L1301.7 945.1 L1303.6 945.8 L1305.5 946.4 L1307.4 947.0 L1309.3 947.7 L1311.2 948.3 L1313.1 948.9 L1315.0 949.5 L1316.9 950.2 L1318.8 950.8 L1320.7 951.4 L1322.7 952.0 L1324.6 952.6 L1326.5 953.2 L1328.4 953.8 L1330.3 954.4 L1332.2 955.1 L1334.1 955.7 L1336.0 956.3 L1338.0 956.9 L1339.9 957.5 L1341.8 958.1 L1343.7 958.7 L1345.6 959.3 L1347.5 959.9 L1349.4 960.5 L1351.3 961.1 L1353.3 961.8 L1355.2 962.4 L1357.1 963.0 L1359.0 963.6 L1360.9 964.2 L1362.8 964.8 L1364.7 965.5 L1366.6 966.1 L1368.5 966.7 L1370.4 967.3 L1372.3 968.0 L1374.2 968.6 L1376.1 969.2 L1378.0 969.9 L1379.9 970.5 L1381.7 971.1 L1383.6 971.8 L1385.5 972.4 L1387.4 973.1 L1389.3 973.7 L1391.2 974.3 L1393.1 975.0 L1395.0 975.6 L1396.9 976.3 L1398.8 976.9 L1400.6 977.5 L1402.5 978.2 L1404.4 978.8 L1406.3 979.5 L1408.2 980.1 L1410.1 980.8 L1412.0 981.4 L1413.8 982.1 L1415.7 982.7 L1417.6 983.4 L1419.5 984.0 L1421.4 984.7 L1423.3 985.3 L1425.2 985.9 L1427.0 986.6 L1428.9 987.2 L1430.8 987.9 L1432.7 988.5 L1434.6 989.2 L1436.5 989.8 L1438.3 990.5 L1440.2 991.1 L1442.1 991.8 L1444.0 992.4 L1445.9 993.0 L1447.8 993.7 L1449.7 994.3 L1451.5 995.0 L1453.4 995.6 L1455.3 996.2 L1457.2 996.9 L1459.1 997.5 L1461.0 998.2 L1462.9 998.8 L1464.8 999.4 L1466.7 1000.1 L1468.5 1000.7 L1470.4 1001.3 L1472.3 1002.0 L1474.2 1002.6 L1476.1 1003.3 L1478.0 1003.9 L1479.9 1004.6 L1481.7 1005.3 L1483.6 1006.0 L1485.5 1006.7 L1487.4 1007.4 L1489.2 1008.1 L1491.1 1008.8 L1492.9 1009.5 L1494.8 1010.3 L1496.7 1011.0 L1498.5 1011.8 L1500.3 1012.6 L1502.2 1013.4 L1504.0 1014.2 L1505.8 1015.0 L1507.7 1015.8 L1509.5 1016.7 L1511.3 1017.5 L1513.1 1018.4 L1514.9 1019.3 L1516.7 1020.1 L1518.5 1021.0 L1520.3 1021.9 L1522.1 1022.8 L1523.9 1023.7 L1525.7 1024.6 L1527.5 1025.5 L1529.4 1026.4 L1531.2 1027.3 L1533.0 1028.1 L1534.8 1029.0 L1536.6 1029.9 L1538.4 1030.8 L1540.2 1031.6 L1542.0 1032.5 L1543.8 1033.4 L1545.6 1034.2 L1547.5 1035.0 L1549.3 1035.9 L1551.1 1036.7 L1552.9 1037.5 L1554.8 1038.3 L1556.6 1039.0 L1558.5 1039.8 L1560.3 1040.6 L1562.1 1041.3 L1564.0 1042.1 L1565.9 1042.8 L1567.7 1043.5 L1569.6 1044.2 L1571.4 1044.9 L1573.3 1045.6 L1575.2 1046.3 L1577.0 1047.0 L1578.9 1047.6 L1580.8 1048.3 L1582.7 1048.9 L1584.6 1049.6 L1586.4 1050.2 L1588.3 1050.8 L1590.2 1051.4 L1592.1 1052.0 L1594.0 1052.6 L1595.9 1053.2 L1597.8 1053.8 L1599.7 1054.4 L1601.6 1054.9 L1603.5 1055.5 L1605.4 1056.0 L1607.4 1056.6 L1609.3 1057.1 L1611.2 1057.6 L1613.1 1058.1 L1615.0 1058.6 L1617.0 1059.1 L1618.9 1059.6 L1620.8 1060.1 L1622.8 1060.6 L1624.7 1061.0 L1626.6 1061.5 L1628.6 1062.0 L1630.5 1062.4 L1632.4 1062.8 L1634.4 1063.3 L1636.3 1063.7 L1638.3 1064.1 L1640.2 1064.5 L1642.2 1064.9 L1644.1 1065.3 L1646.1 1065.7 L1648.0 1066.1 L1650.0 1066.5 L1652.0 1066.9 L1653.9 1067.2 L1655.9 1067.6 L1657.8 1068.0 L1659.8 1068.3 L1661.8 1068.6 L1663.7 1069.0 L1665.7 1069.3 L1667.7 1069.7 L1669.7 1070.0 L1671.6 1070.3 L1673.6 1070.6 L1675.6 1070.9 L1677.6 1071.2 L1679.5 1071.5 L1681.5 1071.8 L1683.5 1072.1 L1685.5 1072.4 L1687.5 1072.6 L1689.4 1072.9 L1691.4 1073.2 L1693.4 1073.4 L1695.4 1073.7 L1697.4 1074.0 L1699.4 1074.2 L1701.3 1074.5 L1703.3 1074.7 L1705.3 1074.9 L1707.3 1075.2 L1709.3 1075.4 L1711.3 1075.6 L1713.3 1075.9 L1715.3 1076.1 L1717.3 1076.3 L1719.3 1076.5 L1721.3 1076.7 L1723.3 1076.9 L1725.2 1077.1 L1727.2 1077.3 L1729.2 1077.5 L1731.2 1077.7 L1733.2 1077.9 L1735.2 1078.1 L1737.2 1078.3 L1739.2 1078.5 L1741.2 1078.7 L1743.2 1078.8 L1745.2 1079.0 L1747.2 1079.2 L1749.2 1079.4 L1751.2 1079.5 L1753.2 1079.7 L1755.2 1079.9 L1757.2 1080.0 L1759.2 1080.2 L1761.2 1080.3 L1763.2 1080.5 L1765.1 1080.7 L1767.1 1080.8 L1769.1 1081.0 L1771.1 1081.1 L1773.1 1081.3 L1775.1 1081.4 L1777.1 1081.6 L1779.1 1081.7 L1781.1 1081.8 L1783.1 1082.0 L1785.1 1082.1 L1787.1 1082.3 L1789.1 1082.4 L1791.1 1082.5 L1793.1 1082.7 L1795.0 1082.8 L1797.0 1082.9 L1799.0 1083.0 L1801.0 1083.2 L1803.0 1083.3 L1805.0 1083.4 L1807.0 1083.5 L1809.0 1083.6 L1811.0 1083.8 L1813.0 1083.9 L1815.0 1084.0 L1817.0 1084.1 L1818.9 1084.2 L1820.9 1084.3 L1822.9 1084.4 L1824.9 1084.5 L1826.9 1084.6 L1828.9 1084.7 L1830.9 1084.8 L1832.9 1084.9 L1834.9 1085.0 L1836.9 1085.1 L1838.9 1085.2 L1840.9 1085.3 L1842.9 1085.4 L1844.8 1085.5 L1846.8 1085.6 L1848.8 1085.7 L1850.8 1085.8 L1852.8 1085.9 L1854.8 1085.9 L1856.8 1086.0 L1858.8 1086.1 L1860.8 1086.2 L1862.8 1086.3 L1864.8 1086.3 L1866.8 1086.4 L1868.8 1086.5 L1870.8 1086.6 L1872.8 1086.6 L1874.7 1086.7 L1876.7 1086.8 L1878.7 1086.8 L1880.7 1086.9 L1882.7 1087.0 L1884.7 1087.0 L1886.7 1087.1 L1888.7 1087.1 L1890.7 1087.2 L1892.7 1087.3 L1894.7 1087.3 L1896.7 1087.4 L1898.7 1087.4 L1900.7 1087.5 L1902.7 1087.5 L1904.7 1087.6 L1906.7 1087.6 L1908.7 1087.7 L1910.7 1087.7 L1912.7 1087.8 L1914.7 1087.8 L1916.7 1087.9 L1918.7 1087.9 L1920.7 1087.9 L1922.7 1088.0 L1924.7 1088.0 L1926.7 1088.1 L1928.7 1088.1 L1930.7 1088.1 L1932.7 1088.2 L1934.7 1088.2 L1936.7 1088.2" stroke="#ff0000" stroke-width="5.0"/>
</g>
<g stroke="#000" stroke-width="4.6" fill="none" stroke-linecap="square">
<path d="M300.8 94.9 L300.8 1306.3 L1936.9 1306.3" stroke-linecap="butt" stroke-linejoin="round"/>
</g>
<g stroke="#000" stroke-width="4.6" fill="none">
<line x1="274.8" y1="1306.30" x2="300.8" y2="1306.30"/>
<line x1="286.8" y1="1185.39" x2="300.8" y2="1185.39"/>
<line x1="274.8" y1="1064.48" x2="300.8" y2="1064.48"/>
<line x1="286.8" y1="943.57" x2="300.8" y2="943.57"/>
<line x1="274.8" y1="822.66" x2="300.8" y2="822.66"/>
<line x1="286.8" y1="701.75" x2="300.8" y2="701.75"/>
<line x1="274.8" y1="580.84" x2="300.8" y2="580.84"/>
<line x1="286.8" y1="459.93" x2="300.8" y2="459.93"/>
<line x1="274.8" y1="339.02" x2="300.8" y2="339.02"/>
<line x1="286.8" y1="218.11" x2="300.8" y2="218.11"/>
<line x1="274.8" y1="97.20" x2="300.8" y2="97.20"/>
<line x1="300.80" y1="1306.3" x2="300.80" y2="1332.3"/>
<line x1="437.14" y1="1306.3" x2="437.14" y2="1319.3"/>
<line x1="573.48" y1="1306.3" x2="573.48" y2="1332.3"/>
<line x1="709.83" y1="1306.3" x2="709.83" y2="1319.3"/>
<line x1="846.17" y1="1306.3" x2="846.17" y2="1332.3"/>
<line x1="982.51" y1="1306.3" x2="982.51" y2="1319.3"/>
<line x1="1118.85" y1="1306.3" x2="1118.85" y2="1332.3"/>
<line x1="1255.19" y1="1306.3" x2="1255.19" y2="1319.3"/>
<line x1="1391.53" y1="1306.3" x2="1391.53" y2="1332.3"/>
<line x1="1527.88" y1="1306.3" x2="1527.88" y2="1319.3"/>
<line x1="1664.22" y1="1306.3" x2="1664.22" y2="1332.3"/>
<line x1="1800.56" y1="1306.3" x2="1800.56" y2="1319.3"/>
<line x1="1936.90" y1="1306.3" x2="1936.90" y2="1332.3"/>
</g>
<g font-family='"Liberation Sans", Arial, sans-serif' font-size="54.0" fill="#000" style="font-kerning:none">
<text transform="translate(259.8 1321.7) scale(1 1.050)" text-anchor="end">0</text>
<text transform="translate(259.8 1079.9) scale(1 1.050)" text-anchor="end">20</text>
<text transform="translate(259.8 838.1) scale(1 1.050)" text-anchor="end">40</text>
<text transform="translate(259.8 596.2) scale(1 1.050)" text-anchor="end">60</text>
<text transform="translate(259.8 354.4) scale(1 1.050)" text-anchor="end">80</text>
<text transform="translate(259.8 112.6) scale(1 1.050)" text-anchor="end">100</text>
<text transform="translate(300.8 1389.6) scale(1 1.050)" text-anchor="middle">0</text>
<text transform="translate(573.5 1389.6) scale(1 1.050)" text-anchor="middle">100</text>
<text transform="translate(846.2 1389.6) scale(1 1.050)" text-anchor="middle">200</text>
<text transform="translate(1118.9 1389.6) scale(1 1.050)" text-anchor="middle">300</text>
<text transform="translate(1391.5 1389.6) scale(1 1.050)" text-anchor="middle">400</text>
<text transform="translate(1664.2 1389.6) scale(1 1.050)" text-anchor="middle">500</text>
<text transform="translate(1936.9 1389.6) scale(1 1.050)" text-anchor="middle">600</text>
</g>
<text transform="translate(1119.3 1491.8) scale(1 1.035)" text-anchor="middle" font-family='"Liberation Sans", Arial, sans-serif' font-size="65.5" fill="#000" style="font-kerning:none">Temperature(°C)</text>
<text transform="translate(72.0 694.4) rotate(-90) scale(1 1.035)" text-anchor="middle" font-family='"Liberation Sans", Arial, sans-serif' font-size="65.6" fill="#000" style="font-kerning:none">Weight (%)</text>
<g font-family='"Liberation Sans", Arial, sans-serif' font-size="65.5" fill="#000" style="font-kerning:none">
<line x1="1507.3" y1="50.8" x2="1656.0" y2="50.8" stroke="#000" stroke-width="5.0"/>
<text transform="translate(1671.0 73.1) scale(1 1.035)">Poly-βCD</text>
<line x1="1507.3" y1="131.4" x2="1656.0" y2="131.4" stroke="#000" stroke-width="5.0" stroke-dasharray="21 22.5"/>
<text transform="translate(1671.0 153.7) scale(1 1.035)">PVA</text>
<rect x="1509.0" y="209.5" width="5" height="5" fill="#000"/>
<rect x="1534.1" y="209.5" width="5" height="5" fill="#000"/>
<rect x="1560.3" y="209.5" width="5" height="5" fill="#000"/>
<rect x="1585.5" y="209.5" width="5" height="5" fill="#000"/>
<rect x="1611.5" y="209.5" width="5" height="5" fill="#000"/>
<rect x="1636.8" y="209.5" width="5" height="5" fill="#000"/>
<text transform="translate(1671.0 234.3) scale(1 1.035)">B50_50</text>
<line x1="1507.3" y1="290.6" x2="1656.0" y2="290.6" stroke="#ff0000" stroke-width="5.0"/>
<text transform="translate(1671.0 312.9) scale(1 1.035)">B70_30</text>
<line x1="1507.3" y1="371.2" x2="1656.0" y2="371.2" stroke="#ff0000" stroke-width="5.0" stroke-dasharray="21 22.5"/>
<text transform="translate(1671.0 393.5) scale(1 1.035)">B80_20</text>
</g>
</svg>
</body></html>
